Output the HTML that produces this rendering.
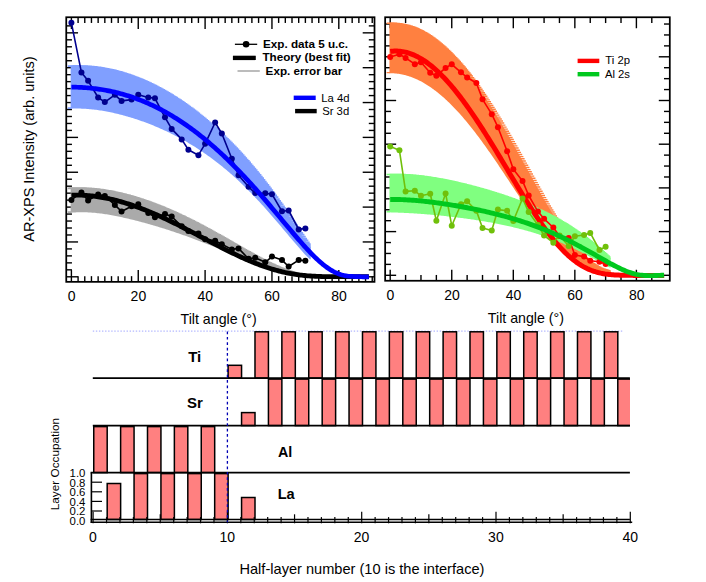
<!DOCTYPE html>
<html><head><meta charset="utf-8"><style>html,body{margin:0;padding:0;background:#fff;}body{width:706px;height:582px;position:relative;overflow:hidden;font-family:"Liberation Sans",sans-serif;}</style></head><body><svg width="706" height="582" viewBox="0 0 706 582" style="position:absolute;left:0;top:0">
<rect x="0" y="0" width="706" height="582" fill="#fff"/>
<g stroke="#000" stroke-width="1.4" fill="none"><path d="M71.40,17.25 v11.8"/><path d="M71.40,281.85 v-11.8"/><path d="M78.09,17.25 v5.7"/><path d="M78.09,281.85 v-5.7"/><path d="M84.77,17.25 v5.7"/><path d="M84.77,281.85 v-5.7"/><path d="M91.46,17.25 v5.7"/><path d="M91.46,281.85 v-5.7"/><path d="M98.14,17.25 v5.7"/><path d="M98.14,281.85 v-5.7"/><path d="M104.83,17.25 v5.7"/><path d="M104.83,281.85 v-5.7"/><path d="M111.51,17.25 v5.7"/><path d="M111.51,281.85 v-5.7"/><path d="M118.19,17.25 v5.7"/><path d="M118.19,281.85 v-5.7"/><path d="M124.88,17.25 v5.7"/><path d="M124.88,281.85 v-5.7"/><path d="M131.56,17.25 v5.7"/><path d="M131.56,281.85 v-5.7"/><path d="M138.25,17.25 v11.8"/><path d="M138.25,281.85 v-11.8"/><path d="M144.94,17.25 v5.7"/><path d="M144.94,281.85 v-5.7"/><path d="M151.62,17.25 v5.7"/><path d="M151.62,281.85 v-5.7"/><path d="M158.31,17.25 v5.7"/><path d="M158.31,281.85 v-5.7"/><path d="M164.99,17.25 v5.7"/><path d="M164.99,281.85 v-5.7"/><path d="M171.68,17.25 v5.7"/><path d="M171.68,281.85 v-5.7"/><path d="M178.36,17.25 v5.7"/><path d="M178.36,281.85 v-5.7"/><path d="M185.05,17.25 v5.7"/><path d="M185.05,281.85 v-5.7"/><path d="M191.73,17.25 v5.7"/><path d="M191.73,281.85 v-5.7"/><path d="M198.41,17.25 v5.7"/><path d="M198.41,281.85 v-5.7"/><path d="M205.10,17.25 v11.8"/><path d="M205.10,281.85 v-11.8"/><path d="M211.78,17.25 v5.7"/><path d="M211.78,281.85 v-5.7"/><path d="M218.47,17.25 v5.7"/><path d="M218.47,281.85 v-5.7"/><path d="M225.16,17.25 v5.7"/><path d="M225.16,281.85 v-5.7"/><path d="M231.84,17.25 v5.7"/><path d="M231.84,281.85 v-5.7"/><path d="M238.53,17.25 v5.7"/><path d="M238.53,281.85 v-5.7"/><path d="M245.21,17.25 v5.7"/><path d="M245.21,281.85 v-5.7"/><path d="M251.89,17.25 v5.7"/><path d="M251.89,281.85 v-5.7"/><path d="M258.58,17.25 v5.7"/><path d="M258.58,281.85 v-5.7"/><path d="M265.26,17.25 v5.7"/><path d="M265.26,281.85 v-5.7"/><path d="M271.95,17.25 v11.8"/><path d="M271.95,281.85 v-11.8"/><path d="M278.63,17.25 v5.7"/><path d="M278.63,281.85 v-5.7"/><path d="M285.32,17.25 v5.7"/><path d="M285.32,281.85 v-5.7"/><path d="M292.00,17.25 v5.7"/><path d="M292.00,281.85 v-5.7"/><path d="M298.69,17.25 v5.7"/><path d="M298.69,281.85 v-5.7"/><path d="M305.38,17.25 v5.7"/><path d="M305.38,281.85 v-5.7"/><path d="M312.06,17.25 v5.7"/><path d="M312.06,281.85 v-5.7"/><path d="M318.75,17.25 v5.7"/><path d="M318.75,281.85 v-5.7"/><path d="M325.43,17.25 v5.7"/><path d="M325.43,281.85 v-5.7"/><path d="M332.12,17.25 v5.7"/><path d="M332.12,281.85 v-5.7"/><path d="M338.80,17.25 v11.8"/><path d="M338.80,281.85 v-11.8"/><path d="M345.49,17.25 v5.7"/><path d="M345.49,281.85 v-5.7"/><path d="M352.17,17.25 v5.7"/><path d="M352.17,281.85 v-5.7"/><path d="M358.86,17.25 v5.7"/><path d="M358.86,281.85 v-5.7"/><path d="M365.54,17.25 v5.7"/><path d="M365.54,281.85 v-5.7"/><path d="M372.23,17.25 v5.7"/><path d="M372.23,281.85 v-5.7"/><path d="M66.25,276.80 h11.8"/><path d="M374.5,276.80 h-11.8"/><path d="M66.25,269.83 h5.7"/><path d="M374.5,269.83 h-5.7"/><path d="M66.25,262.86 h5.7"/><path d="M374.5,262.86 h-5.7"/><path d="M66.25,255.89 h5.7"/><path d="M374.5,255.89 h-5.7"/><path d="M66.25,248.92 h5.7"/><path d="M374.5,248.92 h-5.7"/><path d="M66.25,241.95 h11.8"/><path d="M374.5,241.95 h-11.8"/><path d="M66.25,234.98 h5.7"/><path d="M374.5,234.98 h-5.7"/><path d="M66.25,228.01 h5.7"/><path d="M374.5,228.01 h-5.7"/><path d="M66.25,221.04 h5.7"/><path d="M374.5,221.04 h-5.7"/><path d="M66.25,214.07 h5.7"/><path d="M374.5,214.07 h-5.7"/><path d="M66.25,207.10 h11.8"/><path d="M374.5,207.10 h-11.8"/><path d="M66.25,200.13 h5.7"/><path d="M374.5,200.13 h-5.7"/><path d="M66.25,193.16 h5.7"/><path d="M374.5,193.16 h-5.7"/><path d="M66.25,186.19 h5.7"/><path d="M374.5,186.19 h-5.7"/><path d="M66.25,179.22 h5.7"/><path d="M374.5,179.22 h-5.7"/><path d="M66.25,172.25 h11.8"/><path d="M374.5,172.25 h-11.8"/><path d="M66.25,165.28 h5.7"/><path d="M374.5,165.28 h-5.7"/><path d="M66.25,158.31 h5.7"/><path d="M374.5,158.31 h-5.7"/><path d="M66.25,151.34 h5.7"/><path d="M374.5,151.34 h-5.7"/><path d="M66.25,144.37 h5.7"/><path d="M374.5,144.37 h-5.7"/><path d="M66.25,137.40 h11.8"/><path d="M374.5,137.40 h-11.8"/><path d="M66.25,130.43 h5.7"/><path d="M374.5,130.43 h-5.7"/><path d="M66.25,123.46 h5.7"/><path d="M374.5,123.46 h-5.7"/><path d="M66.25,116.49 h5.7"/><path d="M374.5,116.49 h-5.7"/><path d="M66.25,109.52 h5.7"/><path d="M374.5,109.52 h-5.7"/><path d="M66.25,102.55 h11.8"/><path d="M374.5,102.55 h-11.8"/><path d="M66.25,95.58 h5.7"/><path d="M374.5,95.58 h-5.7"/><path d="M66.25,88.61 h5.7"/><path d="M374.5,88.61 h-5.7"/><path d="M66.25,81.64 h5.7"/><path d="M374.5,81.64 h-5.7"/><path d="M66.25,74.67 h5.7"/><path d="M374.5,74.67 h-5.7"/><path d="M66.25,67.70 h11.8"/><path d="M374.5,67.70 h-11.8"/><path d="M66.25,60.73 h5.7"/><path d="M374.5,60.73 h-5.7"/><path d="M66.25,53.76 h5.7"/><path d="M374.5,53.76 h-5.7"/><path d="M66.25,46.79 h5.7"/><path d="M374.5,46.79 h-5.7"/><path d="M66.25,39.82 h5.7"/><path d="M374.5,39.82 h-5.7"/><path d="M66.25,32.85 h11.8"/><path d="M374.5,32.85 h-11.8"/><path d="M66.25,25.88 h5.7"/><path d="M374.5,25.88 h-5.7"/></g>
<g stroke="#000" stroke-width="1.4" fill="none"><path d="M390.20,17.25 v11.0"/><path d="M390.20,280.75 v-11.0"/><path d="M405.59,17.25 v5.8"/><path d="M405.59,280.75 v-5.8"/><path d="M420.97,17.25 v5.8"/><path d="M420.97,280.75 v-5.8"/><path d="M436.36,17.25 v5.8"/><path d="M436.36,280.75 v-5.8"/><path d="M451.75,17.25 v11.0"/><path d="M451.75,280.75 v-11.0"/><path d="M467.14,17.25 v5.8"/><path d="M467.14,280.75 v-5.8"/><path d="M482.52,17.25 v5.8"/><path d="M482.52,280.75 v-5.8"/><path d="M497.91,17.25 v5.8"/><path d="M497.91,280.75 v-5.8"/><path d="M513.30,17.25 v11.0"/><path d="M513.30,280.75 v-11.0"/><path d="M528.69,17.25 v5.8"/><path d="M528.69,280.75 v-5.8"/><path d="M544.08,17.25 v5.8"/><path d="M544.08,280.75 v-5.8"/><path d="M559.46,17.25 v5.8"/><path d="M559.46,280.75 v-5.8"/><path d="M574.85,17.25 v11.0"/><path d="M574.85,280.75 v-11.0"/><path d="M590.24,17.25 v5.8"/><path d="M590.24,280.75 v-5.8"/><path d="M605.62,17.25 v5.8"/><path d="M605.62,280.75 v-5.8"/><path d="M621.01,17.25 v5.8"/><path d="M621.01,280.75 v-5.8"/><path d="M636.40,17.25 v11.0"/><path d="M636.40,280.75 v-11.0"/><path d="M651.79,17.25 v5.8"/><path d="M651.79,280.75 v-5.8"/><path d="M385.15,275.30 h11.0"/><path d="M669.8,275.30 h-11.0"/><path d="M385.15,264.38 h5.8"/><path d="M669.8,264.38 h-5.8"/><path d="M385.15,253.45 h5.8"/><path d="M669.8,253.45 h-5.8"/><path d="M385.15,242.53 h5.8"/><path d="M669.8,242.53 h-5.8"/><path d="M385.15,231.60 h11.0"/><path d="M669.8,231.60 h-11.0"/><path d="M385.15,220.68 h5.8"/><path d="M669.8,220.68 h-5.8"/><path d="M385.15,209.75 h5.8"/><path d="M669.8,209.75 h-5.8"/><path d="M385.15,198.82 h5.8"/><path d="M669.8,198.82 h-5.8"/><path d="M385.15,187.90 h11.0"/><path d="M669.8,187.90 h-11.0"/><path d="M385.15,176.98 h5.8"/><path d="M669.8,176.98 h-5.8"/><path d="M385.15,166.05 h5.8"/><path d="M669.8,166.05 h-5.8"/><path d="M385.15,155.12 h5.8"/><path d="M669.8,155.12 h-5.8"/><path d="M385.15,144.20 h11.0"/><path d="M669.8,144.20 h-11.0"/><path d="M385.15,133.28 h5.8"/><path d="M669.8,133.28 h-5.8"/><path d="M385.15,122.35 h5.8"/><path d="M669.8,122.35 h-5.8"/><path d="M385.15,111.43 h5.8"/><path d="M669.8,111.43 h-5.8"/><path d="M385.15,100.50 h11.0"/><path d="M669.8,100.50 h-11.0"/><path d="M385.15,89.57 h5.8"/><path d="M669.8,89.57 h-5.8"/><path d="M385.15,78.65 h5.8"/><path d="M669.8,78.65 h-5.8"/><path d="M385.15,67.72 h5.8"/><path d="M669.8,67.72 h-5.8"/><path d="M385.15,56.80 h11.0"/><path d="M669.8,56.80 h-11.0"/><path d="M385.15,45.88 h5.8"/><path d="M669.8,45.88 h-5.8"/><path d="M385.15,34.95 h5.8"/><path d="M669.8,34.95 h-5.8"/><path d="M385.15,24.03 h5.8"/><path d="M669.8,24.03 h-5.8"/></g>
<path d="M70.65,65.40 L71.40,65.40 L72.70,65.35 L74.01,65.32 L75.31,65.30 L76.61,65.29 L77.92,65.29 L79.22,65.31 L80.53,65.33 L81.83,65.37 L83.13,65.42 L84.44,65.48 L85.74,65.56 L87.04,65.64 L88.35,65.74 L89.65,65.85 L90.95,65.97 L92.26,66.10 L93.56,66.25 L94.86,66.40 L96.17,66.57 L97.47,66.75 L98.78,66.94 L100.08,67.14 L101.38,67.35 L102.69,67.58 L103.99,67.81 L105.29,68.06 L106.60,68.32 L107.90,68.59 L109.20,68.87 L110.51,69.16 L111.81,69.47 L113.11,69.78 L114.42,70.11 L115.72,70.45 L117.03,70.80 L118.33,71.16 L119.63,71.53 L120.94,71.91 L122.24,72.30 L123.54,72.71 L124.85,73.12 L126.15,73.55 L127.45,73.99 L128.76,74.44 L130.06,74.90 L131.36,75.37 L132.67,75.85 L133.97,76.34 L135.28,76.85 L136.58,77.36 L137.88,77.89 L139.19,78.42 L140.49,78.97 L141.79,79.53 L143.10,80.09 L144.40,80.67 L145.70,81.26 L147.01,81.87 L148.31,82.48 L149.61,83.10 L150.92,83.73 L152.22,84.38 L153.53,85.03 L154.83,85.70 L156.13,86.38 L157.44,87.06 L158.74,87.76 L160.04,88.47 L161.35,89.19 L162.65,89.92 L163.95,90.66 L165.26,91.42 L166.56,92.18 L167.86,92.95 L169.17,93.74 L170.47,94.53 L171.78,95.34 L173.08,96.16 L174.38,96.99 L175.69,97.83 L176.99,98.68 L178.29,99.54 L179.60,100.41 L180.90,101.29 L182.20,102.19 L183.51,103.10 L184.81,104.01 L186.11,104.94 L187.42,105.88 L188.72,106.83 L190.03,107.79 L191.33,108.77 L192.63,109.75 L193.94,110.75 L195.24,111.76 L196.54,112.77 L197.85,113.81 L199.15,114.85 L200.45,115.90 L201.76,116.97 L203.06,118.04 L204.36,119.12 L205.67,120.22 L206.97,121.32 L208.28,122.44 L209.58,123.57 L210.88,124.71 L212.19,125.87 L213.49,127.03 L214.79,128.21 L216.10,129.40 L217.40,130.61 L218.70,131.82 L220.01,133.05 L221.31,134.29 L222.61,135.54 L223.92,136.80 L225.22,138.08 L226.53,139.37 L227.83,140.67 L229.13,141.99 L230.44,143.32 L231.74,144.66 L233.04,146.01 L234.35,147.38 L235.65,148.76 L236.95,150.16 L238.26,151.56 L239.56,152.98 L240.86,154.42 L242.17,155.87 L243.47,157.33 L244.78,158.80 L246.08,160.29 L247.38,161.79 L248.69,163.30 L249.99,164.83 L251.29,166.37 L252.60,167.93 L253.90,169.49 L255.20,171.08 L256.51,172.67 L257.81,174.28 L259.11,175.90 L260.42,177.54 L261.72,179.19 L263.03,180.87 L264.33,182.56 L265.63,184.26 L266.94,185.97 L268.24,187.70 L269.54,189.44 L270.85,191.19 L272.15,192.95 L273.45,194.73 L274.76,196.52 L276.06,198.32 L277.36,200.13 L278.67,201.95 L279.97,203.78 L281.28,205.63 L282.58,207.48 L283.88,209.34 L285.19,211.21 L286.49,213.08 L287.79,214.97 L289.10,216.86 L290.40,218.76 L291.70,220.66 L293.01,222.56 L294.31,224.47 L295.61,226.38 L296.92,228.30 L298.22,230.21 L299.53,232.12 L300.83,234.03 L302.13,235.93 L303.44,237.83 L304.74,239.73 L306.04,241.56 L307.35,243.33 L308.65,245.09 L309.95,246.82 L310.70,246.82 L310.70,259.32 L309.95,259.32 L308.65,258.07 L307.35,256.80 L306.04,255.51 L304.74,254.14 L303.44,252.71 L302.13,251.26 L300.83,249.80 L299.53,248.32 L298.22,246.83 L296.92,245.33 L295.61,243.82 L294.31,242.30 L293.01,240.77 L291.70,239.23 L290.40,237.69 L289.10,236.15 L287.79,234.60 L286.49,233.06 L285.19,231.51 L283.88,229.96 L282.58,228.42 L281.28,226.87 L279.97,225.33 L278.67,223.79 L277.36,222.26 L276.06,220.73 L274.76,219.21 L273.45,217.69 L272.15,216.18 L270.85,214.68 L269.54,213.19 L268.24,211.70 L266.94,210.22 L265.63,208.76 L264.33,207.30 L263.03,205.85 L261.72,204.41 L260.42,202.99 L259.11,201.57 L257.81,200.17 L256.51,198.77 L255.20,197.39 L253.90,196.02 L252.60,194.66 L251.29,193.31 L249.99,191.98 L248.69,190.66 L247.38,189.35 L246.08,188.05 L244.78,186.76 L243.47,185.49 L242.17,184.23 L240.86,182.98 L239.56,181.75 L238.26,180.53 L236.95,179.32 L235.65,178.12 L234.35,176.94 L233.04,175.77 L231.74,174.61 L230.44,173.47 L229.13,172.34 L227.83,171.22 L226.53,170.11 L225.22,169.01 L223.92,167.93 L222.61,166.86 L221.31,165.81 L220.01,164.76 L218.70,163.73 L217.40,162.71 L216.10,161.70 L214.79,160.70 L213.49,159.72 L212.19,158.74 L210.88,157.78 L209.58,156.83 L208.28,155.89 L206.97,154.97 L205.67,154.05 L204.36,153.15 L203.06,152.25 L201.76,151.37 L200.45,150.50 L199.15,149.64 L197.85,148.79 L196.54,147.95 L195.24,147.12 L193.94,146.30 L192.63,145.50 L191.33,144.70 L190.03,143.91 L188.72,143.13 L187.42,142.37 L186.11,141.61 L184.81,140.86 L183.51,140.12 L182.20,139.39 L180.90,138.67 L179.60,137.96 L178.29,137.26 L176.99,136.57 L175.69,135.89 L174.38,135.22 L173.08,134.55 L171.78,133.90 L170.47,133.25 L169.17,132.61 L167.86,131.98 L166.56,131.36 L165.26,130.75 L163.95,130.14 L162.65,129.55 L161.35,128.96 L160.04,128.38 L158.74,127.81 L157.44,127.25 L156.13,126.70 L154.83,126.15 L153.53,125.61 L152.22,125.08 L150.92,124.56 L149.61,124.05 L148.31,123.54 L147.01,123.04 L145.70,122.55 L144.40,122.07 L143.10,121.59 L141.79,121.13 L140.49,120.67 L139.19,120.22 L137.88,119.77 L136.58,119.34 L135.28,118.91 L133.97,118.49 L132.67,118.08 L131.36,117.67 L130.06,117.28 L128.76,116.89 L127.45,116.51 L126.15,116.13 L124.85,115.77 L123.54,115.41 L122.24,115.06 L120.94,114.72 L119.63,114.39 L118.33,114.06 L117.03,113.75 L115.72,113.44 L114.42,113.14 L113.11,112.85 L111.81,112.56 L110.51,112.29 L109.20,112.02 L107.90,111.77 L106.60,111.52 L105.29,111.28 L103.99,111.05 L102.69,110.83 L101.38,110.62 L100.08,110.42 L98.78,110.22 L97.47,110.04 L96.17,109.87 L94.86,109.70 L93.56,109.55 L92.26,109.41 L90.95,109.28 L89.65,109.15 L88.35,109.04 L87.04,108.94 L85.74,108.85 L84.44,108.77 L83.13,108.71 L81.83,108.65 L80.53,108.61 L79.22,108.57 L77.92,108.55 L76.61,108.55 L75.31,108.55 L74.01,108.57 L72.70,108.60 L71.40,108.64 L70.65,108.64Z" fill="#809fff"/><path d="M67.80,66.10H75.00M69.10,66.05H76.30M70.41,66.02H77.61M71.71,66.00H78.91M73.01,65.99H80.21M74.32,65.99H81.52M75.62,66.01H82.82M76.93,66.03H84.13M78.23,66.07H85.43M79.53,66.12H86.73M80.84,66.18H88.04M82.14,66.26H89.34M83.44,66.34H90.64M84.75,66.44H91.95M86.05,66.55H93.25M87.35,66.67H94.55M88.66,66.80H95.86M89.96,66.95H97.16M91.26,67.10H98.46M92.57,67.27H99.77M93.87,67.45H101.07M95.18,67.64H102.38M96.48,67.84H103.68M97.78,68.05H104.98M99.09,68.28H106.29M100.39,68.51H107.59M101.69,68.76H108.89M103.00,69.02H110.20M104.30,69.29H111.50M105.60,69.57H112.80M106.91,69.86H114.11M108.21,70.17H115.41M109.51,70.48H116.71M110.82,70.81H118.02M112.12,71.15H119.32M113.43,71.50H120.63M114.73,71.86H121.93M116.03,72.23H123.23M117.34,72.61H124.54M118.64,73.00H125.84M119.94,73.41H127.14M121.25,73.82H128.45M122.55,74.25H129.75M123.85,74.69H131.05M125.16,75.14H132.36M126.46,75.60H133.66M127.76,76.07H134.96M129.07,76.55H136.27M130.37,77.04H137.57M131.68,77.55H138.88M132.98,78.06H140.18M134.28,78.59H141.48M135.59,79.12H142.79M136.89,79.67H144.09M138.19,80.23H145.39M139.50,80.79H146.70M140.80,81.37H148.00M142.10,81.96H149.30M143.41,82.57H150.61M144.71,83.18H151.91M146.01,83.80H153.21M147.32,84.43H154.52M148.62,85.08H155.82M149.93,85.73H157.13M151.23,86.40H158.43M152.53,87.08H159.73M153.84,87.76H161.04M155.14,88.46H162.34M156.44,89.17H163.64M157.75,89.89H164.95M159.05,90.62H166.25M160.35,91.36H167.55M161.66,92.12H168.86M162.96,92.88H170.16M164.26,93.65H171.46M165.57,94.44H172.77M166.87,95.23H174.07M168.18,96.04H175.38M169.48,96.86H176.68M170.78,97.69H177.98M172.09,98.53H179.29M173.39,99.38H180.59M174.69,100.24H181.89M176.00,101.11H183.20M177.30,101.99H184.50M178.60,102.89H185.80M179.91,103.80H187.11M181.21,104.71H188.41M182.51,105.64H189.71M183.82,106.58H191.02M185.12,107.53H192.32M186.43,108.49H193.63M187.73,109.47H194.93M189.03,110.45H196.23M190.34,111.45H197.54M191.64,112.46H198.84M192.94,113.47H200.14M194.25,114.51H201.45M195.55,115.55H202.75M196.85,116.60H204.05M198.16,117.67H205.36M199.46,118.74H206.66M200.76,119.82H207.96M202.07,120.92H209.27M203.37,122.02H210.57M204.68,123.14H211.88M205.98,124.27H213.18M207.28,125.41H214.48M208.59,126.57H215.79M209.89,127.73H217.09M211.19,128.91H218.39M212.50,130.10H219.70M213.80,131.31H221.00M215.10,132.52H222.30M216.41,133.75H223.61M217.71,134.99H224.91M219.01,136.24H226.21M220.32,137.50H227.52M221.62,138.78H228.82M222.93,140.07H230.13M224.23,141.37H231.43M225.53,142.69H232.73M226.84,144.02H234.04M228.14,145.36H235.34M229.44,146.71H236.64M230.75,148.08H237.95M232.05,149.46H239.25M233.35,150.86H240.55M234.66,152.26H241.86M235.96,153.68H243.16M237.26,155.12H244.46M238.57,156.57H245.77M239.87,158.03H247.07M241.18,159.50H248.38M242.48,160.99H249.68M243.78,162.49H250.98M245.09,164.00H252.29M246.39,165.53H253.59M247.69,167.07H254.89M249.00,168.63H256.20M250.30,170.19H257.50M251.60,171.78H258.80M252.91,173.37H260.11M254.21,174.98H261.41M255.51,176.60H262.71M256.82,178.24H264.02M258.12,179.89H265.32M259.43,181.57H266.63M260.73,183.26H267.93M262.03,184.96H269.23M263.34,186.67H270.54M264.64,188.40H271.84M265.94,190.14H273.14M267.25,191.89H274.45M268.55,193.65H275.75M269.85,195.43H277.05M271.16,197.22H278.36M272.46,199.02H279.66M273.76,200.83H280.96M275.07,202.65H282.27M276.37,204.48H283.57M277.68,206.33H284.88M278.98,208.18H286.18M280.28,210.04H287.48M281.59,211.91H288.79M282.89,213.78H290.09M284.19,215.67H291.39M285.50,217.56H292.70M286.80,219.46H294.00M288.10,221.36H295.30M289.41,223.26H296.61M290.71,225.17H297.91M292.01,227.08H299.21M293.32,229.00H300.52M294.62,230.91H301.82M295.93,232.82H303.13M297.23,234.73H304.43M298.53,236.63H305.73M299.84,238.53H307.04M301.14,240.43H308.34M302.44,242.26H309.64M303.75,244.03H310.70M305.05,245.79H310.70M306.35,247.52H310.70M67.80,108.09h3.6" stroke="#809fff" stroke-width="1.75" fill="none"/>
<path d="M70.65,187.58 L71.40,187.58 L72.70,187.52 L74.01,187.48 L75.31,187.44 L76.61,187.42 L77.92,187.42 L79.22,187.42 L80.53,187.44 L81.83,187.47 L83.13,187.51 L84.44,187.56 L85.74,187.63 L87.04,187.70 L88.35,187.79 L89.65,187.88 L90.95,187.99 L92.26,188.11 L93.56,188.24 L94.86,188.38 L96.17,188.52 L97.47,188.68 L98.78,188.85 L100.08,189.03 L101.38,189.22 L102.69,189.41 L103.99,189.62 L105.29,189.83 L106.60,190.06 L107.90,190.29 L109.20,190.53 L110.51,190.78 L111.81,191.04 L113.11,191.31 L114.42,191.59 L115.72,191.87 L117.03,192.17 L118.33,192.47 L119.63,192.78 L120.94,193.09 L122.24,193.42 L123.54,193.75 L124.85,194.09 L126.15,194.44 L127.45,194.79 L128.76,195.16 L130.06,195.53 L131.36,195.91 L132.67,196.29 L133.97,196.68 L135.28,197.08 L136.58,197.49 L137.88,197.90 L139.19,198.32 L140.49,198.75 L141.79,199.19 L143.10,199.63 L144.40,200.08 L145.70,200.53 L147.01,200.99 L148.31,201.46 L149.61,201.94 L150.92,202.42 L152.22,202.90 L153.53,203.40 L154.83,203.90 L156.13,204.41 L157.44,204.92 L158.74,205.44 L160.04,205.96 L161.35,206.49 L162.65,207.03 L163.95,207.57 L165.26,208.12 L166.56,208.68 L167.86,209.24 L169.17,209.81 L170.47,210.38 L171.78,210.96 L173.08,211.54 L174.38,212.13 L175.69,212.73 L176.99,213.33 L178.29,213.94 L179.60,214.55 L180.90,215.16 L182.20,215.79 L183.51,216.41 L184.81,217.05 L186.11,217.68 L187.42,218.33 L188.72,218.97 L190.03,219.63 L191.33,220.28 L192.63,220.95 L193.94,221.61 L195.24,222.28 L196.54,222.96 L197.85,223.64 L199.15,224.32 L200.45,225.01 L201.76,225.70 L203.06,226.40 L204.36,227.10 L205.67,227.80 L206.97,228.51 L208.28,229.22 L209.58,229.93 L210.88,230.65 L212.19,231.37 L213.49,232.09 L214.79,232.82 L216.10,233.55 L217.40,234.28 L218.70,235.01 L220.01,235.75 L221.31,236.48 L222.61,237.22 L223.92,237.96 L225.22,238.71 L226.53,239.45 L227.83,240.19 L229.13,240.94 L230.44,241.68 L231.74,242.43 L233.04,243.17 L234.35,243.92 L235.65,244.66 L236.95,245.40 L238.26,246.15 L239.56,246.89 L240.86,247.63 L242.17,248.37 L243.47,249.10 L244.78,249.83 L246.08,250.57 L247.38,251.29 L248.69,252.02 L249.99,252.74 L251.29,253.45 L252.60,254.16 L253.90,254.87 L255.20,255.57 L256.51,256.27 L257.81,256.96 L259.11,257.64 L260.42,258.32 L261.72,258.99 L263.03,259.65 L264.33,260.31 L265.63,260.95 L266.94,261.59 L268.24,262.22 L269.54,262.84 L270.85,263.44 L272.15,264.04 L273.45,264.63 L274.76,265.21 L276.06,265.77 L277.36,266.32 L278.67,266.86 L279.97,267.39 L281.28,267.90 L282.58,268.40 L283.88,268.88 L285.19,269.35 L286.49,269.81 L287.79,270.25 L289.10,270.67 L290.40,271.08 L291.70,271.47 L293.01,271.84 L294.31,272.20 L295.61,272.54 L296.92,272.86 L298.22,273.17 L299.53,273.46 L300.83,273.73 L302.13,273.98 L303.44,274.21 L304.74,274.43 L306.04,274.63 L307.35,274.83 L308.65,275.02 L309.95,275.20 L310.70,275.20 L310.70,276.20 L309.95,276.20 L308.65,276.22 L307.35,276.23 L306.04,276.21 L304.74,276.18 L303.44,276.12 L302.13,276.05 L300.83,275.96 L299.53,275.85 L298.22,275.73 L296.92,275.58 L295.61,275.42 L294.31,275.25 L293.01,275.05 L291.70,274.84 L290.40,274.62 L289.10,274.38 L287.79,274.12 L286.49,273.85 L285.19,273.56 L283.88,273.26 L282.58,272.95 L281.28,272.62 L279.97,272.28 L278.67,271.92 L277.36,271.56 L276.06,271.18 L274.76,270.79 L273.45,270.39 L272.15,269.98 L270.85,269.56 L269.54,269.13 L268.24,268.69 L266.94,268.25 L265.63,267.79 L264.33,267.32 L263.03,266.85 L261.72,266.37 L260.42,265.89 L259.11,265.39 L257.81,264.89 L256.51,264.39 L255.20,263.88 L253.90,263.37 L252.60,262.85 L251.29,262.32 L249.99,261.79 L248.69,261.26 L247.38,260.73 L246.08,260.19 L244.78,259.65 L243.47,259.11 L242.17,258.57 L240.86,258.02 L239.56,257.47 L238.26,256.93 L236.95,256.38 L235.65,255.83 L234.35,255.28 L233.04,254.73 L231.74,254.18 L230.44,253.62 L229.13,253.08 L227.83,252.53 L226.53,251.98 L225.22,251.43 L223.92,250.88 L222.61,250.34 L221.31,249.80 L220.01,249.25 L218.70,248.71 L217.40,248.18 L216.10,247.64 L214.79,247.11 L213.49,246.58 L212.19,246.05 L210.88,245.52 L209.58,245.00 L208.28,244.47 L206.97,243.96 L205.67,243.44 L204.36,242.93 L203.06,242.42 L201.76,241.91 L200.45,241.41 L199.15,240.90 L197.85,240.41 L196.54,239.91 L195.24,239.42 L193.94,238.93 L192.63,238.45 L191.33,237.96 L190.03,237.49 L188.72,237.01 L187.42,236.54 L186.11,236.07 L184.81,235.60 L183.51,235.14 L182.20,234.68 L180.90,234.23 L179.60,233.78 L178.29,233.33 L176.99,232.88 L175.69,232.44 L174.38,232.00 L173.08,231.57 L171.78,231.13 L170.47,230.71 L169.17,230.28 L167.86,229.86 L166.56,229.44 L165.26,229.02 L163.95,228.61 L162.65,228.20 L161.35,227.80 L160.04,227.40 L158.74,227.00 L157.44,226.60 L156.13,226.21 L154.83,225.82 L153.53,225.44 L152.22,225.06 L150.92,224.68 L149.61,224.30 L148.31,223.93 L147.01,223.57 L145.70,223.20 L144.40,222.84 L143.10,222.48 L141.79,222.13 L140.49,221.78 L139.19,221.44 L137.88,221.10 L136.58,220.76 L135.28,220.43 L133.97,220.10 L132.67,219.77 L131.36,219.45 L130.06,219.14 L128.76,218.82 L127.45,218.52 L126.15,218.21 L124.85,217.92 L123.54,217.63 L122.24,217.34 L120.94,217.06 L119.63,216.78 L118.33,216.51 L117.03,216.25 L115.72,215.99 L114.42,215.74 L113.11,215.49 L111.81,215.25 L110.51,215.02 L109.20,214.80 L107.90,214.58 L106.60,214.37 L105.29,214.17 L103.99,213.97 L102.69,213.79 L101.38,213.61 L100.08,213.44 L98.78,213.28 L97.47,213.13 L96.17,212.99 L94.86,212.86 L93.56,212.74 L92.26,212.64 L90.95,212.54 L89.65,212.46 L88.35,212.38 L87.04,212.32 L85.74,212.28 L84.44,212.24 L83.13,212.22 L81.83,212.22 L80.53,212.23 L79.22,212.25 L77.92,212.29 L76.61,212.35 L75.31,212.42 L74.01,212.51 L72.70,212.62 L71.40,212.75 L70.65,212.75Z" fill="#aaaaaa"/><path d="M67.80,188.28H75.00M69.10,188.22H76.30M70.41,188.18H77.61M71.71,188.14H78.91M73.01,188.12H80.21M74.32,188.12H81.52M75.62,188.12H82.82M76.93,188.14H84.13M78.23,188.17H85.43M79.53,188.21H86.73M80.84,188.26H88.04M82.14,188.33H89.34M83.44,188.40H90.64M84.75,188.49H91.95M86.05,188.58H93.25M87.35,188.69H94.55M88.66,188.81H95.86M89.96,188.94H97.16M91.26,189.08H98.46M92.57,189.22H99.77M93.87,189.38H101.07M95.18,189.55H102.38M96.48,189.73H103.68M97.78,189.92H104.98M99.09,190.11H106.29M100.39,190.32H107.59M101.69,190.53H108.89M103.00,190.76H110.20M104.30,190.99H111.50M105.60,191.23H112.80M106.91,191.48H114.11M108.21,191.74H115.41M109.51,192.01H116.71M110.82,192.29H118.02M112.12,192.57H119.32M113.43,192.87H120.63M114.73,193.17H121.93M116.03,193.48H123.23M117.34,193.79H124.54M118.64,194.12H125.84M119.94,194.45H127.14M121.25,194.79H128.45M122.55,195.14H129.75M123.85,195.49H131.05M125.16,195.86H132.36M126.46,196.23H133.66M127.76,196.61H134.96M129.07,196.99H136.27M130.37,197.38H137.57M131.68,197.78H138.88M132.98,198.19H140.18M134.28,198.60H141.48M135.59,199.02H142.79M136.89,199.45H144.09M138.19,199.89H145.39M139.50,200.33H146.70M140.80,200.78H148.00M142.10,201.23H149.30M143.41,201.69H150.61M144.71,202.16H151.91M146.01,202.64H153.21M147.32,203.12H154.52M148.62,203.60H155.82M149.93,204.10H157.13M151.23,204.60H158.43M152.53,205.11H159.73M153.84,205.62H161.04M155.14,206.14H162.34M156.44,206.66H163.64M157.75,207.19H164.95M159.05,207.73H166.25M160.35,208.27H167.55M161.66,208.82H168.86M162.96,209.38H170.16M164.26,209.94H171.46M165.57,210.51H172.77M166.87,211.08H174.07M168.18,211.66H175.38M169.48,212.24H176.68M170.78,212.83H177.98M172.09,213.43H179.29M173.39,214.03H180.59M174.69,214.64H181.89M176.00,215.25H183.20M177.30,215.86H184.50M178.60,216.49H185.80M179.91,217.11H187.11M181.21,217.75H188.41M182.51,218.38H189.71M183.82,219.03H191.02M185.12,219.67H192.32M186.43,220.33H193.63M187.73,220.98H194.93M189.03,221.65H196.23M190.34,222.31H197.54M191.64,222.98H198.84M192.94,223.66H200.14M194.25,224.34H201.45M195.55,225.02H202.75M196.85,225.71H204.05M198.16,226.40H205.36M199.46,227.10H206.66M200.76,227.80H207.96M202.07,228.50H209.27M203.37,229.21H210.57M204.68,229.92H211.88M205.98,230.63H213.18M207.28,231.35H214.48M208.59,232.07H215.79M209.89,232.79H217.09M211.19,233.52H218.39M212.50,234.25H219.70M213.80,234.98H221.00M215.10,235.71H222.30M216.41,236.45H223.61M217.71,237.18H224.91M219.01,237.92H226.21M220.32,238.66H227.52M221.62,239.41H228.82M222.93,240.15H230.13M224.23,240.89H231.43M225.53,241.64H232.73M226.84,242.38H234.04M228.14,243.13H235.34M229.44,243.87H236.64M230.75,244.62H237.95M232.05,245.36H239.25M233.35,246.10H240.55M234.66,246.85H241.86M235.96,247.59H243.16M237.26,248.33H244.46M238.57,249.07H245.77M239.87,249.80H247.07M241.18,250.53H248.38M242.48,251.27H249.68M243.78,251.99H250.98M245.09,252.72H252.29M246.39,253.44H253.59M247.69,254.15H254.89M249.00,254.86H256.20M250.30,255.57H257.50M251.60,256.27H258.80M252.91,256.97H260.11M254.21,257.66H261.41M255.51,258.34H262.71M256.82,259.02H264.02M258.12,259.69H265.32M259.43,260.35H266.63M260.73,261.01H267.93M262.03,261.65H269.23M263.34,262.29H270.54M264.64,262.92H271.84M265.94,263.54H273.14M267.25,264.14H274.45M268.55,264.74H275.75M269.85,265.33H277.05M271.16,265.91H278.36M272.46,266.47H279.66M273.76,267.02H280.96M275.07,267.56H282.27M276.37,268.09H283.57M277.68,268.60H284.88M278.98,269.10H286.18M280.28,269.58H287.48M281.59,270.05H288.79M282.89,270.51H290.09M284.19,270.95H291.39M285.50,271.37H292.70M286.80,271.78H294.00M288.10,272.17H295.30M289.41,272.54H296.61M290.71,272.90H297.91M292.01,273.24H299.21M293.32,273.56H300.52M294.62,273.87H301.82M295.93,274.16H303.13M297.23,274.43H304.43M298.53,274.68H305.73M299.84,274.91H307.04M301.14,275.13H308.34M302.44,275.33H309.64M303.75,275.53H310.70M305.05,275.72H310.70M306.35,275.90H310.70M67.80,212.20h3.6" stroke="#aaaaaa" stroke-width="1.75" fill="none"/>
<path d="M71.40,22.80 L81.43,72.40 L88.11,80.80 L98.14,97.50 L104.83,102.10 L114.85,94.80 L121.54,100.90 L131.56,99.60 L138.25,94.80 L148.28,97.40 L154.96,98.30 L164.99,117.30 L171.68,128.90 L181.70,139.40 L188.39,149.80 L198.41,155.20 L205.10,143.80 L215.13,122.50 L221.81,133.50 L231.84,158.80 L238.53,175.30 L248.55,186.80 L255.24,193.10 L265.26,193.30 L271.95,194.20 L281.98,211.30 L288.66,210.50 L298.69,229.40 L305.38,228.40" fill="none" stroke="#00008f" stroke-width="1.6" stroke-linejoin="round"/><circle cx="71.40" cy="22.80" r="3.0" fill="#00008f"/><circle cx="81.43" cy="72.40" r="3.0" fill="#00008f"/><circle cx="88.11" cy="80.80" r="3.0" fill="#00008f"/><circle cx="98.14" cy="97.50" r="3.0" fill="#00008f"/><circle cx="104.83" cy="102.10" r="3.0" fill="#00008f"/><circle cx="114.85" cy="94.80" r="3.0" fill="#00008f"/><circle cx="121.54" cy="100.90" r="3.0" fill="#00008f"/><circle cx="131.56" cy="99.60" r="3.0" fill="#00008f"/><circle cx="138.25" cy="94.80" r="3.0" fill="#00008f"/><circle cx="148.28" cy="97.40" r="3.0" fill="#00008f"/><circle cx="154.96" cy="98.30" r="3.0" fill="#00008f"/><circle cx="164.99" cy="117.30" r="3.0" fill="#00008f"/><circle cx="171.68" cy="128.90" r="3.0" fill="#00008f"/><circle cx="181.70" cy="139.40" r="3.0" fill="#00008f"/><circle cx="188.39" cy="149.80" r="3.0" fill="#00008f"/><circle cx="198.41" cy="155.20" r="3.0" fill="#00008f"/><circle cx="205.10" cy="143.80" r="3.0" fill="#00008f"/><circle cx="215.13" cy="122.50" r="3.0" fill="#00008f"/><circle cx="221.81" cy="133.50" r="3.0" fill="#00008f"/><circle cx="231.84" cy="158.80" r="3.0" fill="#00008f"/><circle cx="238.53" cy="175.30" r="3.0" fill="#00008f"/><circle cx="248.55" cy="186.80" r="3.0" fill="#00008f"/><circle cx="255.24" cy="193.10" r="3.0" fill="#00008f"/><circle cx="265.26" cy="193.30" r="3.0" fill="#00008f"/><circle cx="271.95" cy="194.20" r="3.0" fill="#00008f"/><circle cx="281.98" cy="211.30" r="3.0" fill="#00008f"/><circle cx="288.66" cy="210.50" r="3.0" fill="#00008f"/><circle cx="298.69" cy="229.40" r="3.0" fill="#00008f"/><circle cx="305.38" cy="228.40" r="3.0" fill="#00008f"/>
<path d="M71.40,199.90 L81.43,192.40 L88.11,200.50 L98.14,194.40 L104.83,196.00 L114.85,204.90 L121.54,211.50 L131.56,206.30 L138.25,204.30 L148.28,212.90 L154.96,217.30 L164.99,214.10 L171.68,216.50 L181.70,226.30 L188.39,230.90 L198.41,233.50 L205.10,239.20 L215.13,240.80 L221.81,244.20 L231.84,249.40 L238.53,248.40 L248.55,258.80 L255.24,257.80 L265.26,262.30 L271.95,256.60 L281.98,260.10 L288.66,266.50 L298.69,260.10 L305.38,260.70" fill="none" stroke="#000" stroke-width="1.6" stroke-linejoin="round"/><circle cx="71.40" cy="199.90" r="3.0" fill="#000"/><circle cx="81.43" cy="192.40" r="3.0" fill="#000"/><circle cx="88.11" cy="200.50" r="3.0" fill="#000"/><circle cx="98.14" cy="194.40" r="3.0" fill="#000"/><circle cx="104.83" cy="196.00" r="3.0" fill="#000"/><circle cx="114.85" cy="204.90" r="3.0" fill="#000"/><circle cx="121.54" cy="211.50" r="3.0" fill="#000"/><circle cx="131.56" cy="206.30" r="3.0" fill="#000"/><circle cx="138.25" cy="204.30" r="3.0" fill="#000"/><circle cx="148.28" cy="212.90" r="3.0" fill="#000"/><circle cx="154.96" cy="217.30" r="3.0" fill="#000"/><circle cx="164.99" cy="214.10" r="3.0" fill="#000"/><circle cx="171.68" cy="216.50" r="3.0" fill="#000"/><circle cx="181.70" cy="226.30" r="3.0" fill="#000"/><circle cx="188.39" cy="230.90" r="3.0" fill="#000"/><circle cx="198.41" cy="233.50" r="3.0" fill="#000"/><circle cx="205.10" cy="239.20" r="3.0" fill="#000"/><circle cx="215.13" cy="240.80" r="3.0" fill="#000"/><circle cx="221.81" cy="244.20" r="3.0" fill="#000"/><circle cx="231.84" cy="249.40" r="3.0" fill="#000"/><circle cx="238.53" cy="248.40" r="3.0" fill="#000"/><circle cx="248.55" cy="258.80" r="3.0" fill="#000"/><circle cx="255.24" cy="257.80" r="3.0" fill="#000"/><circle cx="265.26" cy="262.30" r="3.0" fill="#000"/><circle cx="271.95" cy="256.60" r="3.0" fill="#000"/><circle cx="281.98" cy="260.10" r="3.0" fill="#000"/><circle cx="288.66" cy="266.50" r="3.0" fill="#000"/><circle cx="298.69" cy="260.10" r="3.0" fill="#000"/><circle cx="305.38" cy="260.70" r="3.0" fill="#000"/>
<path d="M71.40,195.12 L72.89,195.08 L74.39,195.06 L75.88,195.06 L77.38,195.07 L78.87,195.10 L80.37,195.14 L81.86,195.20 L83.36,195.27 L84.85,195.35 L86.35,195.46 L87.84,195.57 L89.34,195.70 L90.83,195.85 L92.33,196.01 L93.82,196.19 L95.32,196.37 L96.81,196.58 L98.31,196.79 L99.80,197.03 L101.30,197.27 L102.79,197.53 L104.29,197.80 L105.78,198.09 L107.28,198.39 L108.77,198.70 L110.27,199.02 L111.76,199.36 L113.26,199.71 L114.75,200.08 L116.25,200.45 L117.74,200.84 L119.24,201.24 L120.73,201.66 L122.23,202.08 L123.72,202.52 L125.22,202.97 L126.71,203.43 L128.21,203.90 L129.70,204.38 L131.20,204.88 L132.69,205.38 L134.19,205.90 L135.68,206.42 L137.18,206.96 L138.67,207.51 L140.16,208.07 L141.66,208.63 L143.15,209.21 L144.65,209.80 L146.14,210.39 L147.64,211.00 L149.13,211.61 L150.63,212.24 L152.12,212.87 L153.62,213.51 L155.11,214.15 L156.61,214.81 L158.10,215.48 L159.60,216.15 L161.09,216.83 L162.59,217.51 L164.08,218.21 L165.58,218.91 L167.07,219.61 L168.57,220.32 L170.06,221.04 L171.56,221.77 L173.05,222.50 L174.55,223.23 L176.04,223.97 L177.54,224.72 L179.03,225.47 L180.53,226.22 L182.02,226.98 L183.52,227.75 L185.01,228.51 L186.51,229.28 L188.00,230.05 L189.50,230.83 L190.99,231.61 L192.49,232.39 L193.98,233.17 L195.48,233.95 L196.97,234.74 L198.47,235.53 L199.96,236.31 L201.46,237.10 L202.95,237.89 L204.44,238.68 L205.94,239.46 L207.43,240.25 L208.93,241.04 L210.42,241.82 L211.92,242.60 L213.41,243.39 L214.91,244.17 L216.40,244.94 L217.90,245.72 L219.39,246.49 L220.89,247.25 L222.38,248.02 L223.88,248.78 L225.37,249.53 L226.87,250.28 L228.36,251.03 L229.86,251.77 L231.35,252.50 L232.85,253.23 L234.34,253.95 L235.84,254.66 L237.33,255.37 L238.83,256.07 L240.32,256.76 L241.82,257.45 L243.31,258.12 L244.81,258.79 L246.30,259.45 L247.80,260.10 L249.29,260.74 L250.79,261.36 L252.28,261.98 L253.78,262.59 L255.27,263.19 L256.77,263.78 L258.26,264.35 L259.76,264.91 L261.25,265.46 L262.75,266.00 L264.24,266.53 L265.74,267.04 L267.23,267.54 L268.73,268.03 L270.22,268.50 L271.71,268.97 L273.21,269.41 L274.70,269.84 L276.20,270.26 L277.69,270.67 L279.19,271.06 L280.68,271.43 L282.18,271.80 L283.67,272.14 L285.17,272.47 L286.66,272.79 L288.16,273.10 L289.65,273.38 L291.15,273.66 L292.64,273.92 L294.14,274.16 L295.63,274.40 L297.13,274.61 L298.62,274.82 L300.12,275.01 L301.61,275.19 L303.11,275.35 L304.60,275.51 L306.10,275.65 L307.59,275.78 L309.09,275.89 L310.58,276.00 L312.08,276.10 L313.57,276.18 L315.07,276.26 L316.56,276.33 L318.06,276.39 L319.55,276.44 L321.05,276.49 L322.54,276.53 L324.04,276.56 L325.53,276.59 L327.03,276.61 L328.52,276.63 L330.02,276.65 L331.51,276.66 L333.01,276.67 L334.50,276.68 L335.99,276.69 L337.49,276.69 L338.98,276.70 L340.48,276.70 L341.97,276.70 L343.47,276.70 L344.96,276.70 L346.46,276.70 L347.95,276.70 L349.45,276.70 L350.94,276.70 L352.44,276.70 L353.93,276.70 L355.43,276.70 L356.92,276.70 L358.42,276.70 L359.91,276.70 L361.41,276.69 L362.90,276.69 L364.40,276.68 L365.89,276.68 L367.39,276.67 L368.88,276.67" fill="none" stroke="#000" stroke-width="4.8" stroke-linejoin="round"/>
<path d="M71.40,87.08 L72.89,87.10 L74.39,87.13 L75.88,87.18 L77.38,87.23 L78.87,87.30 L80.37,87.37 L81.86,87.45 L83.36,87.55 L84.85,87.65 L86.35,87.76 L87.84,87.89 L89.34,88.03 L90.83,88.17 L92.33,88.33 L93.82,88.50 L95.32,88.69 L96.81,88.88 L98.31,89.09 L99.80,89.30 L101.30,89.53 L102.79,89.77 L104.29,90.03 L105.78,90.29 L107.28,90.57 L108.77,90.86 L110.27,91.17 L111.76,91.49 L113.26,91.82 L114.75,92.16 L116.25,92.52 L117.74,92.89 L119.24,93.27 L120.73,93.67 L122.23,94.08 L123.72,94.50 L125.22,94.94 L126.71,95.39 L128.21,95.85 L129.70,96.33 L131.20,96.82 L132.69,97.33 L134.19,97.85 L135.68,98.38 L137.18,98.93 L138.67,99.50 L140.16,100.07 L141.66,100.67 L143.15,101.27 L144.65,101.89 L146.14,102.53 L147.64,103.18 L149.13,103.84 L150.63,104.52 L152.12,105.22 L153.62,105.92 L155.11,106.65 L156.61,107.39 L158.10,108.14 L159.60,108.91 L161.09,109.69 L162.59,110.49 L164.08,111.30 L165.58,112.13 L167.07,112.97 L168.57,113.82 L170.06,114.70 L171.56,115.58 L173.05,116.49 L174.55,117.40 L176.04,118.34 L177.54,119.28 L179.03,120.24 L180.53,121.22 L182.02,122.21 L183.52,123.22 L185.01,124.24 L186.51,125.28 L188.00,126.33 L189.50,127.40 L190.99,128.48 L192.49,129.58 L193.98,130.69 L195.48,131.82 L196.97,132.97 L198.47,134.12 L199.96,135.30 L201.46,136.48 L202.95,137.68 L204.44,138.90 L205.94,140.13 L207.43,141.38 L208.93,142.64 L210.42,143.92 L211.92,145.21 L213.41,146.51 L214.91,147.83 L216.40,149.17 L217.90,150.52 L219.39,151.88 L220.89,153.26 L222.38,154.65 L223.88,156.06 L225.37,157.48 L226.87,158.91 L228.36,160.36 L229.86,161.82 L231.35,163.30 L232.85,164.79 L234.34,166.29 L235.84,167.80 L237.33,169.33 L238.83,170.88 L240.32,172.43 L241.82,174.00 L243.31,175.58 L244.81,177.17 L246.30,178.78 L247.80,180.39 L249.29,182.02 L250.79,183.66 L252.28,185.32 L253.78,186.98 L255.27,188.65 L256.77,190.33 L258.26,192.03 L259.76,193.73 L261.25,195.44 L262.75,197.17 L264.24,198.90 L265.74,200.64 L267.23,202.38 L268.73,204.13 L270.22,205.89 L271.71,207.66 L273.21,209.43 L274.70,211.21 L276.20,212.99 L277.69,214.77 L279.19,216.56 L280.68,218.35 L282.18,220.14 L283.67,221.93 L285.17,223.72 L286.66,225.51 L288.16,227.29 L289.65,229.07 L291.15,230.85 L292.64,232.62 L294.14,234.38 L295.63,236.13 L297.13,237.88 L298.62,239.61 L300.12,241.32 L301.61,243.02 L303.11,244.71 L304.60,246.37 L306.10,248.02 L307.59,249.64 L309.09,251.23 L310.58,252.80 L312.08,254.34 L313.57,255.84 L315.07,257.32 L316.56,258.75 L318.06,260.14 L319.55,261.49 L321.05,262.79 L322.54,264.05 L324.04,265.26 L325.53,266.41 L327.03,267.50 L328.52,268.54 L330.02,269.51 L331.51,270.42 L333.01,271.26 L334.50,272.04 L335.99,272.75 L337.49,273.39 L338.98,273.96 L340.48,274.47 L341.97,274.91 L343.47,275.28 L344.96,275.60 L346.46,275.85 L347.95,276.06 L349.45,276.22 L350.94,276.34 L352.44,276.44 L353.93,276.51 L355.43,276.56 L356.92,276.60 L358.42,276.65 L359.91,276.69 L361.41,276.73 L362.90,276.78 L364.40,276.83 L365.89,276.88 L367.39,276.95 L368.88,277.00" fill="none" stroke="#0000ff" stroke-width="4.7" stroke-linejoin="round"/>
<path d="M389.45,22.56 L390.20,22.56 L391.40,22.56 L392.60,22.57 L393.80,22.62 L395.00,22.68 L396.20,22.78 L397.40,22.90 L398.60,23.05 L399.80,23.22 L401.00,23.42 L402.20,23.65 L403.40,23.90 L404.60,24.17 L405.80,24.47 L407.00,24.80 L408.20,25.16 L409.40,25.54 L410.60,25.94 L411.80,26.37 L413.00,26.83 L414.20,27.31 L415.40,27.82 L416.60,28.35 L417.81,28.91 L419.01,29.49 L420.21,30.10 L421.41,30.73 L422.61,31.39 L423.81,32.08 L425.01,32.79 L426.21,33.52 L427.41,34.28 L428.61,35.06 L429.81,35.87 L431.01,36.71 L432.21,37.56 L433.41,38.45 L434.61,39.35 L435.81,40.29 L437.01,41.24 L438.21,42.22 L439.41,43.23 L440.61,44.25 L441.81,45.29 L443.01,46.35 L444.21,47.43 L445.41,48.53 L446.61,49.66 L447.81,50.81 L449.01,51.99 L450.21,53.18 L451.41,54.40 L452.61,55.64 L453.81,56.91 L455.01,58.19 L456.21,59.50 L457.41,60.83 L458.61,62.18 L459.81,63.56 L461.01,64.95 L462.21,66.37 L463.41,67.80 L464.61,69.26 L465.81,70.74 L467.01,72.24 L468.21,73.76 L469.41,75.31 L470.62,76.90 L471.82,78.50 L473.02,80.12 L474.22,81.76 L475.42,83.42 L476.62,85.10 L477.82,86.80 L479.02,88.52 L480.22,90.26 L481.42,92.01 L482.62,93.79 L483.82,95.58 L485.02,97.39 L486.22,99.22 L487.42,101.06 L488.62,102.92 L489.82,104.80 L491.02,106.69 L492.22,108.60 L493.42,110.52 L494.62,112.46 L495.82,114.42 L497.02,116.39 L498.22,118.37 L499.42,120.36 L500.62,122.37 L501.82,124.39 L503.02,126.43 L504.22,128.47 L505.42,130.53 L506.62,132.60 L507.82,134.68 L509.02,136.77 L510.22,138.87 L511.42,140.97 L512.62,143.09 L513.82,145.21 L515.02,147.34 L516.22,149.48 L517.42,151.63 L518.62,153.78 L519.82,155.93 L521.02,158.09 L522.22,160.25 L523.42,162.42 L524.63,164.59 L525.83,166.76 L527.03,168.93 L528.23,171.10 L529.43,173.27 L530.63,175.44 L531.83,177.61 L533.03,179.77 L534.23,181.93 L535.43,184.09 L536.63,186.24 L537.83,188.39 L539.03,190.53 L540.23,192.66 L541.43,194.78 L542.63,196.89 L543.83,199.00 L545.03,201.09 L546.23,203.16 L547.43,205.23 L548.63,207.28 L549.83,209.32 L551.03,211.33 L552.23,213.34 L553.43,215.32 L554.63,217.28 L555.83,219.22 L557.03,221.15 L558.23,223.04 L559.43,224.92 L560.63,226.77 L561.83,228.59 L563.03,230.39 L564.23,232.16 L565.43,233.90 L566.63,235.61 L567.83,237.28 L569.03,238.93 L570.23,240.54 L571.43,242.12 L572.63,243.66 L573.83,245.16 L575.03,246.63 L576.23,248.06 L577.44,249.47 L578.64,250.85 L579.84,252.19 L581.04,253.48 L582.24,254.73 L583.44,255.94 L584.64,257.10 L585.84,258.21 L587.04,259.27 L588.24,260.29 L589.44,261.26 L590.64,262.18 L591.84,263.05 L593.04,263.85 L594.24,264.61 L595.44,265.31 L596.64,265.97 L597.84,266.59 L599.04,267.15 L600.24,267.68 L601.44,268.16 L602.64,268.59 L603.84,268.98 L605.04,269.33 L606.24,269.64 L607.44,269.99 L608.64,270.36 L609.84,270.68 L610.59,270.68 L610.59,276.26 L609.84,276.26 L608.64,276.10 L607.44,275.93 L606.24,275.76 L605.04,275.57 L603.84,275.36 L602.64,275.15 L601.44,274.91 L600.24,274.66 L599.04,274.39 L597.84,274.10 L596.64,273.79 L595.44,273.46 L594.24,273.11 L593.04,272.73 L591.84,272.32 L590.64,271.89 L589.44,271.44 L588.24,270.95 L587.04,270.44 L585.84,269.90 L584.64,269.33 L583.44,268.73 L582.24,268.10 L581.04,267.43 L579.84,266.74 L578.64,266.01 L577.44,265.25 L576.23,264.46 L575.03,263.64 L573.83,262.79 L572.63,261.90 L571.43,260.98 L570.23,260.03 L569.03,259.04 L567.83,258.03 L566.63,256.98 L565.43,255.90 L564.23,254.79 L563.03,253.65 L561.83,252.47 L560.63,251.27 L559.43,250.04 L558.23,248.78 L557.03,247.50 L555.83,246.18 L554.63,244.84 L553.43,243.47 L552.23,242.08 L551.03,240.66 L549.83,239.21 L548.63,237.75 L547.43,236.26 L546.23,234.74 L545.03,233.21 L543.83,231.65 L542.63,230.08 L541.43,228.49 L540.23,226.88 L539.03,225.25 L537.83,223.60 L536.63,221.94 L535.43,220.26 L534.23,218.57 L533.03,216.86 L531.83,215.14 L530.63,213.41 L529.43,211.67 L528.23,209.92 L527.03,208.16 L525.83,206.39 L524.63,204.61 L523.42,202.82 L522.22,201.03 L521.02,199.23 L519.82,197.43 L518.62,195.62 L517.42,193.81 L516.22,191.99 L515.02,190.18 L513.82,188.36 L512.62,186.54 L511.42,184.72 L510.22,182.90 L509.02,181.08 L507.82,179.26 L506.62,177.44 L505.42,175.63 L504.22,173.82 L503.02,172.02 L501.82,170.22 L500.62,168.42 L499.42,166.63 L498.22,164.85 L497.02,163.08 L495.82,161.31 L494.62,159.55 L493.42,157.79 L492.22,156.05 L491.02,154.32 L489.82,152.59 L488.62,150.88 L487.42,149.17 L486.22,147.48 L485.02,145.80 L483.82,144.13 L482.62,142.48 L481.42,140.84 L480.22,139.21 L479.02,137.59 L477.82,135.99 L476.62,134.40 L475.42,132.83 L474.22,131.27 L473.02,129.73 L471.82,128.20 L470.62,126.69 L469.41,125.20 L468.21,123.72 L467.01,122.26 L465.81,120.81 L464.61,119.39 L463.41,117.98 L462.21,116.59 L461.01,115.22 L459.81,113.87 L458.61,112.53 L457.41,111.22 L456.21,109.92 L455.01,108.65 L453.81,107.39 L452.61,106.15 L451.41,104.94 L450.21,103.74 L449.01,102.57 L447.81,101.41 L446.61,100.28 L445.41,99.17 L444.21,98.08 L443.01,97.01 L441.81,95.96 L440.61,94.94 L439.41,93.93 L438.21,92.95 L437.01,91.99 L435.81,91.06 L434.61,90.14 L433.41,89.25 L432.21,88.38 L431.01,87.54 L429.81,86.72 L428.61,85.92 L427.41,85.14 L426.21,84.39 L425.01,83.66 L423.81,82.96 L422.61,82.28 L421.41,81.62 L420.21,80.99 L419.01,80.38 L417.81,79.79 L416.60,79.23 L415.40,78.70 L414.20,78.18 L413.00,77.70 L411.80,77.24 L410.60,76.80 L409.40,76.39 L408.20,76.00 L407.00,75.63 L405.80,75.30 L404.60,74.98 L403.40,74.70 L402.20,74.43 L401.00,74.20 L399.80,73.98 L398.60,73.80 L397.40,73.64 L396.20,73.50 L395.00,73.39 L393.80,73.30 L392.60,73.25 L391.40,73.21 L390.20,73.20 L389.45,73.20Z" fill="#ff8040"/><path d="M386.60,23.26H393.80M387.80,23.26H395.00M389.00,23.27H396.20M390.20,23.32H397.40M391.40,23.38H398.60M392.60,23.48H399.80M393.80,23.60H401.00M395.00,23.75H402.20M396.20,23.92H403.40M397.40,24.12H404.60M398.60,24.35H405.80M399.80,24.60H407.00M401.00,24.87H408.20M402.20,25.17H409.40M403.40,25.50H410.60M404.60,25.86H411.80M405.80,26.24H413.00M407.00,26.64H414.20M408.20,27.07H415.40M409.40,27.53H416.60M410.60,28.01H417.80M411.80,28.52H419.00M413.00,29.05H420.20M414.21,29.61H421.41M415.41,30.19H422.61M416.61,30.80H423.81M417.81,31.43H425.01M419.01,32.09H426.21M420.21,32.78H427.41M421.41,33.49H428.61M422.61,34.22H429.81M423.81,34.98H431.01M425.01,35.76H432.21M426.21,36.57H433.41M427.41,37.41H434.61M428.61,38.26H435.81M429.81,39.15H437.01M431.01,40.05H438.21M432.21,40.99H439.41M433.41,41.94H440.61M434.61,42.92H441.81M435.81,43.93H443.01M437.01,44.95H444.21M438.21,45.99H445.41M439.41,47.05H446.61M440.61,48.13H447.81M441.81,49.23H449.01M443.01,50.36H450.21M444.21,51.51H451.41M445.41,52.69H452.61M446.61,53.88H453.81M447.81,55.10H455.01M449.01,56.34H456.21M450.21,57.61H457.41M451.41,58.89H458.61M452.61,60.20H459.81M453.81,61.53H461.01M455.01,62.88H462.21M456.21,64.26H463.41M457.41,65.65H464.61M458.61,67.07H465.81M459.81,68.50H467.01M461.01,69.96H468.21M462.21,71.44H469.41M463.41,72.94H470.61M464.61,74.46H471.81M465.81,76.01H473.01M467.02,77.60H474.22M468.22,79.20H475.42M469.42,80.82H476.62M470.62,82.46H477.82M471.82,84.12H479.02M473.02,85.80H480.22M474.22,87.50H481.42M475.42,89.22H482.62M476.62,90.96H483.82M477.82,92.71H485.02M479.02,94.49H486.22M480.22,96.28H487.42M481.42,98.09H488.62M482.62,99.92H489.82M483.82,101.76H491.02M485.02,103.62H492.22M486.22,105.50H493.42M487.42,107.39H494.62M488.62,109.30H495.82M489.82,111.22H497.02M491.02,113.16H498.22M492.22,115.12H499.42M493.42,117.09H500.62M494.62,119.07H501.82M495.82,121.06H503.02M497.02,123.07H504.22M498.22,125.09H505.42M499.42,127.13H506.62M500.62,129.17H507.82M501.82,131.23H509.02M503.02,133.30H510.22M504.22,135.38H511.42M505.42,137.47H512.62M506.62,139.57H513.82M507.82,141.67H515.02M509.02,143.79H516.22M510.22,145.91H517.42M511.42,148.04H518.62M512.62,150.18H519.82M513.82,152.33H521.02M515.02,154.48H522.22M516.22,156.63H523.42M517.42,158.79H524.62M518.62,160.95H525.82M519.82,163.12H527.02M521.03,165.29H528.23M522.23,167.46H529.43M523.43,169.63H530.63M524.63,171.80H531.83M525.83,173.97H533.03M527.03,176.14H534.23M528.23,178.31H535.43M529.43,180.47H536.63M530.63,182.63H537.83M531.83,184.79H539.03M533.03,186.94H540.23M534.23,189.09H541.43M535.43,191.23H542.63M536.63,193.36H543.83M537.83,195.48H545.03M539.03,197.59H546.23M540.23,199.70H547.43M541.43,201.79H548.63M542.63,203.86H549.83M543.83,205.93H551.03M545.03,207.98H552.23M546.23,210.02H553.43M547.43,212.03H554.63M548.63,214.04H555.83M549.83,216.02H557.03M551.03,217.98H558.23M552.23,219.92H559.43M553.43,221.85H560.63M554.63,223.74H561.83M555.83,225.62H563.03M557.03,227.47H564.23M558.23,229.29H565.43M559.43,231.09H566.63M560.63,232.86H567.83M561.83,234.60H569.03M563.03,236.31H570.23M564.23,237.98H571.43M565.43,239.63H572.63M566.63,241.24H573.83M567.83,242.82H575.03M569.03,244.36H576.23M570.23,245.86H577.43M571.43,247.33H578.63M572.63,248.76H579.83M573.84,250.17H581.04M575.04,251.55H582.24M576.24,252.89H583.44M577.44,254.18H584.64M578.64,255.43H585.84M579.84,256.64H587.04M581.04,257.80H588.24M582.24,258.91H589.44M583.44,259.97H590.64M584.64,260.99H591.84M585.84,261.96H593.04M587.04,262.88H594.24M588.24,263.75H595.44M589.44,264.55H596.64M590.64,265.31H597.84M591.84,266.01H599.04M593.04,266.67H600.24M594.24,267.29H601.44M595.44,267.85H602.64M596.64,268.38H603.84M597.84,268.86H605.04M599.04,269.29H606.24M600.24,269.68H607.44M601.44,270.03H608.64M602.64,270.34H609.84M603.84,270.69H610.59M605.04,271.06H610.59M606.24,271.38H610.59M386.60,72.65h3.6" stroke="#ff8040" stroke-width="1.4" fill="none"/>
<path d="M389.45,173.76 L390.20,173.76 L391.40,173.73 L392.60,173.71 L393.80,173.70 L395.00,173.70 L396.20,173.71 L397.40,173.72 L398.60,173.74 L399.80,173.77 L401.00,173.81 L402.20,173.86 L403.40,173.91 L404.60,173.97 L405.80,174.04 L407.00,174.12 L408.20,174.20 L409.40,174.29 L410.60,174.38 L411.80,174.48 L413.00,174.59 L414.20,174.71 L415.40,174.83 L416.60,174.96 L417.81,175.09 L419.01,175.23 L420.21,175.37 L421.41,175.52 L422.61,175.68 L423.81,175.84 L425.01,176.00 L426.21,176.18 L427.41,176.35 L428.61,176.53 L429.81,176.72 L431.01,176.91 L432.21,177.11 L433.41,177.31 L434.61,177.51 L435.81,177.72 L437.01,177.93 L438.21,178.15 L439.41,178.37 L440.61,178.60 L441.81,178.83 L443.01,179.07 L444.21,179.30 L445.41,179.55 L446.61,179.79 L447.81,180.04 L449.01,180.30 L450.21,180.55 L451.41,180.81 L452.61,181.08 L453.81,181.35 L455.01,181.62 L456.21,181.89 L457.41,182.17 L458.61,182.45 L459.81,182.74 L461.01,183.02 L462.21,183.32 L463.41,183.61 L464.61,183.91 L465.81,184.21 L467.01,184.51 L468.21,184.82 L469.41,185.13 L470.62,185.45 L471.82,185.76 L473.02,186.08 L474.22,186.41 L475.42,186.73 L476.62,187.06 L477.82,187.40 L479.02,187.73 L480.22,188.07 L481.42,188.41 L482.62,188.76 L483.82,189.11 L485.02,189.46 L486.22,189.82 L487.42,190.18 L488.62,190.54 L489.82,190.90 L491.02,191.27 L492.22,191.64 L493.42,192.02 L494.62,192.40 L495.82,192.78 L497.02,193.17 L498.22,193.56 L499.42,193.95 L500.62,194.35 L501.82,194.75 L503.02,195.16 L504.22,195.57 L505.42,195.98 L506.62,196.40 L507.82,196.82 L509.02,197.24 L510.22,197.67 L511.42,198.11 L512.62,198.55 L513.82,198.99 L515.02,199.44 L516.22,199.89 L517.42,200.35 L518.62,200.81 L519.82,201.28 L521.02,201.75 L522.22,202.23 L523.42,202.71 L524.63,203.20 L525.83,203.69 L527.03,204.19 L528.23,204.70 L529.43,205.21 L530.63,205.72 L531.83,206.25 L533.03,206.77 L534.23,207.31 L535.43,207.85 L536.63,208.40 L537.83,208.95 L539.03,209.51 L540.23,210.08 L541.43,210.66 L542.63,211.24 L543.83,211.83 L545.03,212.42 L546.23,213.03 L547.43,213.64 L548.63,214.26 L549.83,214.89 L551.03,215.52 L552.23,216.17 L553.43,216.82 L554.63,217.48 L555.83,218.15 L557.03,218.83 L558.23,219.52 L559.43,220.21 L560.63,220.92 L561.83,221.63 L563.03,222.36 L564.23,223.09 L565.43,223.83 L566.63,224.58 L567.83,225.35 L569.03,226.12 L570.23,226.90 L571.43,227.70 L572.63,228.50 L573.83,229.31 L575.03,230.14 L576.23,230.97 L577.44,231.82 L578.64,232.67 L579.84,233.54 L581.04,234.42 L582.24,235.31 L583.44,236.21 L584.64,237.12 L585.84,238.04 L587.04,238.97 L588.24,239.92 L589.44,240.87 L590.64,241.84 L591.84,242.81 L593.04,243.80 L594.24,244.79 L595.44,245.79 L596.64,246.80 L597.84,247.82 L599.04,248.85 L600.24,249.88 L601.44,250.93 L602.64,251.99 L603.84,253.05 L605.04,254.13 L606.24,255.21 L607.44,256.19 L608.64,257.09 L609.84,258.03 L610.59,258.03 L610.59,267.54 L609.84,267.54 L608.64,266.91 L607.44,266.27 L606.24,265.63 L605.04,264.98 L603.84,264.33 L602.64,263.68 L601.44,263.03 L600.24,262.37 L599.04,261.72 L597.84,261.06 L596.64,260.41 L595.44,259.75 L594.24,259.10 L593.04,258.45 L591.84,257.80 L590.64,257.15 L589.44,256.51 L588.24,255.87 L587.04,255.23 L585.84,254.60 L584.64,253.97 L583.44,253.34 L582.24,252.73 L581.04,252.11 L579.84,251.50 L578.64,250.90 L577.44,250.30 L576.23,249.71 L575.03,249.12 L573.83,248.54 L572.63,247.97 L571.43,247.40 L570.23,246.84 L569.03,246.28 L567.83,245.74 L566.63,245.19 L565.43,244.66 L564.23,244.13 L563.03,243.60 L561.83,243.09 L560.63,242.58 L559.43,242.08 L558.23,241.58 L557.03,241.09 L555.83,240.60 L554.63,240.13 L553.43,239.66 L552.23,239.19 L551.03,238.73 L549.83,238.28 L548.63,237.84 L547.43,237.40 L546.23,236.97 L545.03,236.54 L543.83,236.12 L542.63,235.70 L541.43,235.29 L540.23,234.89 L539.03,234.49 L537.83,234.10 L536.63,233.72 L535.43,233.34 L534.23,232.96 L533.03,232.59 L531.83,232.23 L530.63,231.87 L529.43,231.52 L528.23,231.17 L527.03,230.83 L525.83,230.49 L524.63,230.16 L523.42,229.83 L522.22,229.51 L521.02,229.19 L519.82,228.88 L518.62,228.57 L517.42,228.27 L516.22,227.97 L515.02,227.67 L513.82,227.38 L512.62,227.09 L511.42,226.81 L510.22,226.53 L509.02,226.26 L507.82,225.99 L506.62,225.72 L505.42,225.46 L504.22,225.20 L503.02,224.95 L501.82,224.70 L500.62,224.45 L499.42,224.20 L498.22,223.96 L497.02,223.73 L495.82,223.49 L494.62,223.26 L493.42,223.03 L492.22,222.81 L491.02,222.59 L489.82,222.37 L488.62,222.16 L487.42,221.95 L486.22,221.74 L485.02,221.53 L483.82,221.33 L482.62,221.13 L481.42,220.93 L480.22,220.74 L479.02,220.54 L477.82,220.35 L476.62,220.17 L475.42,219.98 L474.22,219.80 L473.02,219.62 L471.82,219.45 L470.62,219.27 L469.41,219.10 L468.21,218.93 L467.01,218.76 L465.81,218.60 L464.61,218.43 L463.41,218.27 L462.21,218.12 L461.01,217.96 L459.81,217.81 L458.61,217.65 L457.41,217.50 L456.21,217.36 L455.01,217.21 L453.81,217.07 L452.61,216.93 L451.41,216.79 L450.21,216.65 L449.01,216.51 L447.81,216.38 L446.61,216.25 L445.41,216.12 L444.21,215.99 L443.01,215.87 L441.81,215.74 L440.61,215.62 L439.41,215.50 L438.21,215.39 L437.01,215.27 L435.81,215.16 L434.61,215.04 L433.41,214.93 L432.21,214.83 L431.01,214.72 L429.81,214.62 L428.61,214.51 L427.41,214.41 L426.21,214.31 L425.01,214.22 L423.81,214.12 L422.61,214.03 L421.41,213.94 L420.21,213.85 L419.01,213.77 L417.81,213.68 L416.60,213.60 L415.40,213.52 L414.20,213.44 L413.00,213.37 L411.80,213.29 L410.60,213.22 L409.40,213.15 L408.20,213.08 L407.00,213.02 L405.80,212.96 L404.60,212.90 L403.40,212.84 L402.20,212.78 L401.00,212.73 L399.80,212.68 L398.60,212.63 L397.40,212.58 L396.20,212.54 L395.00,212.50 L393.80,212.46 L392.60,212.43 L391.40,212.39 L390.20,212.36 L389.45,212.36Z" fill="#80ff80"/><path d="M386.60,174.46H393.80M387.80,174.43H395.00M389.00,174.41H396.20M390.20,174.40H397.40M391.40,174.40H398.60M392.60,174.41H399.80M393.80,174.42H401.00M395.00,174.44H402.20M396.20,174.47H403.40M397.40,174.51H404.60M398.60,174.56H405.80M399.80,174.61H407.00M401.00,174.67H408.20M402.20,174.74H409.40M403.40,174.82H410.60M404.60,174.90H411.80M405.80,174.99H413.00M407.00,175.08H414.20M408.20,175.18H415.40M409.40,175.29H416.60M410.60,175.41H417.80M411.80,175.53H419.00M413.00,175.66H420.20M414.21,175.79H421.41M415.41,175.93H422.61M416.61,176.07H423.81M417.81,176.22H425.01M419.01,176.38H426.21M420.21,176.54H427.41M421.41,176.70H428.61M422.61,176.88H429.81M423.81,177.05H431.01M425.01,177.23H432.21M426.21,177.42H433.41M427.41,177.61H434.61M428.61,177.81H435.81M429.81,178.01H437.01M431.01,178.21H438.21M432.21,178.42H439.41M433.41,178.63H440.61M434.61,178.85H441.81M435.81,179.07H443.01M437.01,179.30H444.21M438.21,179.53H445.41M439.41,179.77H446.61M440.61,180.00H447.81M441.81,180.25H449.01M443.01,180.49H450.21M444.21,180.74H451.41M445.41,181.00H452.61M446.61,181.25H453.81M447.81,181.51H455.01M449.01,181.78H456.21M450.21,182.05H457.41M451.41,182.32H458.61M452.61,182.59H459.81M453.81,182.87H461.01M455.01,183.15H462.21M456.21,183.44H463.41M457.41,183.72H464.61M458.61,184.02H465.81M459.81,184.31H467.01M461.01,184.61H468.21M462.21,184.91H469.41M463.41,185.21H470.61M464.61,185.52H471.81M465.81,185.83H473.01M467.02,186.15H474.22M468.22,186.46H475.42M469.42,186.78H476.62M470.62,187.11H477.82M471.82,187.43H479.02M473.02,187.76H480.22M474.22,188.10H481.42M475.42,188.43H482.62M476.62,188.77H483.82M477.82,189.11H485.02M479.02,189.46H486.22M480.22,189.81H487.42M481.42,190.16H488.62M482.62,190.52H489.82M483.82,190.88H491.02M485.02,191.24H492.22M486.22,191.60H493.42M487.42,191.97H494.62M488.62,192.34H495.82M489.82,192.72H497.02M491.02,193.10H498.22M492.22,193.48H499.42M493.42,193.87H500.62M494.62,194.26H501.82M495.82,194.65H503.02M497.02,195.05H504.22M498.22,195.45H505.42M499.42,195.86H506.62M500.62,196.27H507.82M501.82,196.68H509.02M503.02,197.10H510.22M504.22,197.52H511.42M505.42,197.94H512.62M506.62,198.37H513.82M507.82,198.81H515.02M509.02,199.25H516.22M510.22,199.69H517.42M511.42,200.14H518.62M512.62,200.59H519.82M513.82,201.05H521.02M515.02,201.51H522.22M516.22,201.98H523.42M517.42,202.45H524.62M518.62,202.93H525.82M519.82,203.41H527.02M521.03,203.90H528.23M522.23,204.39H529.43M523.43,204.89H530.63M524.63,205.40H531.83M525.83,205.91H533.03M527.03,206.42H534.23M528.23,206.95H535.43M529.43,207.47H536.63M530.63,208.01H537.83M531.83,208.55H539.03M533.03,209.10H540.23M534.23,209.65H541.43M535.43,210.21H542.63M536.63,210.78H543.83M537.83,211.36H545.03M539.03,211.94H546.23M540.23,212.53H547.43M541.43,213.12H548.63M542.63,213.73H549.83M543.83,214.34H551.03M545.03,214.96H552.23M546.23,215.59H553.43M547.43,216.22H554.63M548.63,216.87H555.83M549.83,217.52H557.03M551.03,218.18H558.23M552.23,218.85H559.43M553.43,219.53H560.63M554.63,220.22H561.83M555.83,220.91H563.03M557.03,221.62H564.23M558.23,222.33H565.43M559.43,223.06H566.63M560.63,223.79H567.83M561.83,224.53H569.03M563.03,225.28H570.23M564.23,226.05H571.43M565.43,226.82H572.63M566.63,227.60H573.83M567.83,228.40H575.03M569.03,229.20H576.23M570.23,230.01H577.43M571.43,230.84H578.63M572.63,231.67H579.83M573.84,232.52H581.04M575.04,233.37H582.24M576.24,234.24H583.44M577.44,235.12H584.64M578.64,236.01H585.84M579.84,236.91H587.04M581.04,237.82H588.24M582.24,238.74H589.44M583.44,239.67H590.64M584.64,240.62H591.84M585.84,241.57H593.04M587.04,242.54H594.24M588.24,243.51H595.44M589.44,244.50H596.64M590.64,245.49H597.84M591.84,246.49H599.04M593.04,247.50H600.24M594.24,248.52H601.44M595.44,249.55H602.64M596.64,250.58H603.84M597.84,251.63H605.04M599.04,252.69H606.24M600.24,253.75H607.44M601.44,254.83H608.64M602.64,255.91H609.84M603.84,256.89H610.59M605.04,257.79H610.59M606.24,258.73H610.59M386.60,211.81h3.6" stroke="#80ff80" stroke-width="1.4" fill="none"/>
<path d="M390.20,56.90 L399.43,54.30 L405.59,57.90 L414.82,64.20 L420.97,62.30 L430.21,72.80 L436.36,75.80 L445.59,67.90 L451.75,64.30 L460.98,72.30 L467.14,77.50 L476.37,83.00 L482.52,99.30 L491.76,114.20 L497.91,127.20 L507.14,151.30 L513.30,169.20 L522.53,180.90 L528.69,195.50 L537.92,211.60 L544.08,218.80 L553.31,227.50 L559.46,236.00 L568.69,238.00 L574.85,255.00 L584.08,256.60 L590.24,260.80 L599.47,261.80 L605.62,264.00" fill="none" stroke="#ff0000" stroke-width="1.6" stroke-linejoin="round"/><circle cx="390.20" cy="56.90" r="3.0" fill="#ff0000"/><circle cx="399.43" cy="54.30" r="3.0" fill="#ff0000"/><circle cx="405.59" cy="57.90" r="3.0" fill="#ff0000"/><circle cx="414.82" cy="64.20" r="3.0" fill="#ff0000"/><circle cx="420.97" cy="62.30" r="3.0" fill="#ff0000"/><circle cx="430.21" cy="72.80" r="3.0" fill="#ff0000"/><circle cx="436.36" cy="75.80" r="3.0" fill="#ff0000"/><circle cx="445.59" cy="67.90" r="3.0" fill="#ff0000"/><circle cx="451.75" cy="64.30" r="3.0" fill="#ff0000"/><circle cx="460.98" cy="72.30" r="3.0" fill="#ff0000"/><circle cx="467.14" cy="77.50" r="3.0" fill="#ff0000"/><circle cx="476.37" cy="83.00" r="3.0" fill="#ff0000"/><circle cx="482.52" cy="99.30" r="3.0" fill="#ff0000"/><circle cx="491.76" cy="114.20" r="3.0" fill="#ff0000"/><circle cx="497.91" cy="127.20" r="3.0" fill="#ff0000"/><circle cx="507.14" cy="151.30" r="3.0" fill="#ff0000"/><circle cx="513.30" cy="169.20" r="3.0" fill="#ff0000"/><circle cx="522.53" cy="180.90" r="3.0" fill="#ff0000"/><circle cx="528.69" cy="195.50" r="3.0" fill="#ff0000"/><circle cx="537.92" cy="211.60" r="3.0" fill="#ff0000"/><circle cx="544.08" cy="218.80" r="3.0" fill="#ff0000"/><circle cx="553.31" cy="227.50" r="3.0" fill="#ff0000"/><circle cx="559.46" cy="236.00" r="3.0" fill="#ff0000"/><circle cx="568.69" cy="238.00" r="3.0" fill="#ff0000"/><circle cx="574.85" cy="255.00" r="3.0" fill="#ff0000"/><circle cx="584.08" cy="256.60" r="3.0" fill="#ff0000"/><circle cx="590.24" cy="260.80" r="3.0" fill="#ff0000"/><circle cx="599.47" cy="261.80" r="3.0" fill="#ff0000"/><circle cx="605.62" cy="264.00" r="3.0" fill="#ff0000"/>
<path d="M390.20,51.52 L391.58,51.33 L392.95,51.20 L394.33,51.11 L395.71,51.07 L397.08,51.09 L398.46,51.15 L399.83,51.26 L401.21,51.41 L402.59,51.62 L403.96,51.87 L405.34,52.16 L406.72,52.50 L408.09,52.89 L409.47,53.33 L410.85,53.80 L412.22,54.33 L413.60,54.89 L414.97,55.50 L416.35,56.16 L417.73,56.85 L419.10,57.59 L420.48,58.37 L421.86,59.19 L423.23,60.05 L424.61,60.96 L425.99,61.90 L427.36,62.88 L428.74,63.91 L430.11,64.97 L431.49,66.06 L432.87,67.20 L434.24,68.38 L435.62,69.59 L437.00,70.84 L438.37,72.12 L439.75,73.44 L441.13,74.79 L442.50,76.18 L443.88,77.60 L445.25,79.06 L446.63,80.55 L448.01,82.07 L449.38,83.62 L450.76,85.21 L452.14,86.82 L453.51,88.47 L454.89,90.14 L456.27,91.85 L457.64,93.58 L459.02,95.34 L460.39,97.13 L461.77,98.95 L463.15,100.79 L464.52,102.66 L465.90,104.55 L467.28,106.46 L468.65,108.40 L470.03,110.37 L471.41,112.35 L472.78,114.36 L474.16,116.38 L475.53,118.43 L476.91,120.50 L478.29,122.59 L479.66,124.69 L481.04,126.81 L482.42,128.95 L483.79,131.10 L485.17,133.27 L486.55,135.46 L487.92,137.65 L489.30,139.86 L490.67,142.08 L492.05,144.31 L493.43,146.56 L494.80,148.81 L496.18,151.07 L497.56,153.33 L498.93,155.61 L500.31,157.89 L501.69,160.17 L503.06,162.46 L504.44,164.75 L505.82,167.04 L507.19,169.34 L508.57,171.63 L509.94,173.92 L511.32,176.21 L512.70,178.50 L514.07,180.78 L515.45,183.06 L516.83,185.33 L518.20,187.59 L519.58,189.85 L520.96,192.10 L522.33,194.33 L523.71,196.55 L525.08,198.77 L526.46,200.96 L527.84,203.15 L529.21,205.31 L530.59,207.46 L531.97,209.59 L533.34,211.70 L534.72,213.79 L536.10,215.86 L537.47,217.91 L538.85,219.93 L540.22,221.93 L541.60,223.90 L542.98,225.84 L544.35,227.76 L545.73,229.64 L547.11,231.50 L548.48,233.32 L549.86,235.11 L551.24,236.87 L552.61,238.60 L553.99,240.28 L555.36,241.94 L556.74,243.55 L558.12,245.13 L559.49,246.66 L560.87,248.16 L562.25,249.62 L563.62,251.04 L565.00,252.41 L566.38,253.75 L567.75,255.04 L569.13,256.28 L570.50,257.49 L571.88,258.65 L573.26,259.76 L574.63,260.83 L576.01,261.86 L577.39,262.84 L578.76,263.78 L580.14,264.67 L581.52,265.52 L582.89,266.33 L584.27,267.09 L585.64,267.81 L587.02,268.49 L588.40,269.12 L589.77,269.72 L591.15,270.28 L592.53,270.79 L593.90,271.27 L595.28,271.72 L596.66,272.12 L598.03,272.50 L599.41,272.84 L600.78,273.15 L602.16,273.43 L603.54,273.68 L604.91,273.91 L606.29,274.11 L607.67,274.29 L609.04,274.44 L610.42,274.58 L611.80,274.70 L613.17,274.81 L614.55,274.90 L615.92,274.97 L617.30,275.04 L618.68,275.10 L620.05,275.14 L621.43,275.19 L622.81,275.22 L624.18,275.25 L625.56,275.28 L626.94,275.30 L628.31,275.32 L629.69,275.34 L631.06,275.35 L632.44,275.37 L633.82,275.39 L635.19,275.40 L636.57,275.41 L637.95,275.43 L639.32,275.44 L640.70,275.45 L642.08,275.47 L643.45,275.48 L644.83,275.49 L646.20,275.50 L647.58,275.51 L648.96,275.52 L650.33,275.53 L651.71,275.53 L653.09,275.54 L654.46,275.54 L655.84,275.54 L657.22,275.54 L658.59,275.54 L659.97,275.54 L661.34,275.53 L662.72,275.52 L664.10,275.51" fill="none" stroke="#ff0000" stroke-width="5" stroke-linejoin="round"/>
<path d="M390.20,146.60 L399.43,150.30 L405.59,191.40 L414.82,190.80 L420.97,195.80 L430.21,193.80 L436.36,220.70 L445.59,193.40 L451.75,225.70 L460.98,204.20 L467.14,201.20 L476.37,210.80 L482.52,228.00 L491.76,230.50 L497.91,209.60 L507.14,210.80 L513.30,221.00 L522.53,198.50 L528.69,212.10 L537.92,225.00 L544.08,235.50 L553.31,242.70 L559.46,235.50 L568.69,246.00 L574.85,236.30 L584.08,235.00 L590.24,232.90 L599.47,250.00 L605.62,246.80" fill="none" stroke="#70c00a" stroke-width="1.6" stroke-linejoin="round"/><circle cx="390.20" cy="146.60" r="3.0" fill="#70c00a"/><circle cx="399.43" cy="150.30" r="3.0" fill="#70c00a"/><circle cx="405.59" cy="191.40" r="3.0" fill="#70c00a"/><circle cx="414.82" cy="190.80" r="3.0" fill="#70c00a"/><circle cx="420.97" cy="195.80" r="3.0" fill="#70c00a"/><circle cx="430.21" cy="193.80" r="3.0" fill="#70c00a"/><circle cx="436.36" cy="220.70" r="3.0" fill="#70c00a"/><circle cx="445.59" cy="193.40" r="3.0" fill="#70c00a"/><circle cx="451.75" cy="225.70" r="3.0" fill="#70c00a"/><circle cx="460.98" cy="204.20" r="3.0" fill="#70c00a"/><circle cx="467.14" cy="201.20" r="3.0" fill="#70c00a"/><circle cx="476.37" cy="210.80" r="3.0" fill="#70c00a"/><circle cx="482.52" cy="228.00" r="3.0" fill="#70c00a"/><circle cx="491.76" cy="230.50" r="3.0" fill="#70c00a"/><circle cx="497.91" cy="209.60" r="3.0" fill="#70c00a"/><circle cx="507.14" cy="210.80" r="3.0" fill="#70c00a"/><circle cx="513.30" cy="221.00" r="3.0" fill="#70c00a"/><circle cx="522.53" cy="198.50" r="3.0" fill="#70c00a"/><circle cx="528.69" cy="212.10" r="3.0" fill="#70c00a"/><circle cx="537.92" cy="225.00" r="3.0" fill="#70c00a"/><circle cx="544.08" cy="235.50" r="3.0" fill="#70c00a"/><circle cx="553.31" cy="242.70" r="3.0" fill="#70c00a"/><circle cx="559.46" cy="235.50" r="3.0" fill="#70c00a"/><circle cx="568.69" cy="246.00" r="3.0" fill="#70c00a"/><circle cx="574.85" cy="236.30" r="3.0" fill="#70c00a"/><circle cx="584.08" cy="235.00" r="3.0" fill="#70c00a"/><circle cx="590.24" cy="232.90" r="3.0" fill="#70c00a"/><circle cx="599.47" cy="250.00" r="3.0" fill="#70c00a"/><circle cx="605.62" cy="246.80" r="3.0" fill="#70c00a"/>
<path d="M390.20,199.48 L391.58,199.47 L392.95,199.46 L394.33,199.46 L395.71,199.48 L397.08,199.50 L398.46,199.52 L399.83,199.56 L401.21,199.60 L402.59,199.65 L403.96,199.71 L405.34,199.78 L406.72,199.85 L408.09,199.93 L409.47,200.01 L410.85,200.10 L412.22,200.20 L413.60,200.30 L414.97,200.41 L416.35,200.53 L417.73,200.65 L419.10,200.77 L420.48,200.90 L421.86,201.04 L423.23,201.18 L424.61,201.32 L425.99,201.47 L427.36,201.63 L428.74,201.79 L430.11,201.95 L431.49,202.12 L432.87,202.29 L434.24,202.46 L435.62,202.64 L437.00,202.83 L438.37,203.01 L439.75,203.20 L441.13,203.40 L442.50,203.60 L443.88,203.80 L445.25,204.00 L446.63,204.21 L448.01,204.43 L449.38,204.64 L450.76,204.86 L452.14,205.09 L453.51,205.31 L454.89,205.54 L456.27,205.78 L457.64,206.01 L459.02,206.25 L460.39,206.50 L461.77,206.74 L463.15,206.99 L464.52,207.25 L465.90,207.50 L467.28,207.76 L468.65,208.03 L470.03,208.30 L471.41,208.57 L472.78,208.84 L474.16,209.12 L475.53,209.40 L476.91,209.69 L478.29,209.98 L479.66,210.27 L481.04,210.57 L482.42,210.87 L483.79,211.17 L485.17,211.48 L486.55,211.79 L487.92,212.11 L489.30,212.43 L490.67,212.76 L492.05,213.09 L493.43,213.42 L494.80,213.76 L496.18,214.10 L497.56,214.45 L498.93,214.80 L500.31,215.15 L501.69,215.52 L503.06,215.88 L504.44,216.25 L505.82,216.63 L507.19,217.01 L508.57,217.40 L509.94,217.79 L511.32,218.19 L512.70,218.59 L514.07,219.00 L515.45,219.41 L516.83,219.83 L518.20,220.26 L519.58,220.69 L520.96,221.13 L522.33,221.57 L523.71,222.02 L525.08,222.48 L526.46,222.94 L527.84,223.41 L529.21,223.88 L530.59,224.36 L531.97,224.85 L533.34,225.35 L534.72,225.85 L536.10,226.36 L537.47,226.88 L538.85,227.40 L540.22,227.93 L541.60,228.47 L542.98,229.01 L544.35,229.56 L545.73,230.12 L547.11,230.69 L548.48,231.26 L549.86,231.85 L551.24,232.44 L552.61,233.03 L553.99,233.64 L555.36,234.25 L556.74,234.87 L558.12,235.50 L559.49,236.13 L560.87,236.78 L562.25,237.43 L563.62,238.08 L565.00,238.75 L566.38,239.42 L567.75,240.10 L569.13,240.79 L570.50,241.48 L571.88,242.18 L573.26,242.89 L574.63,243.61 L576.01,244.33 L577.39,245.06 L578.76,245.79 L580.14,246.53 L581.52,247.28 L582.89,248.03 L584.27,248.79 L585.64,249.55 L587.02,250.32 L588.40,251.09 L589.77,251.86 L591.15,252.64 L592.53,253.42 L593.90,254.21 L595.28,254.99 L596.66,255.78 L598.03,256.56 L599.41,257.35 L600.78,258.14 L602.16,258.92 L603.54,259.70 L604.91,260.48 L606.29,261.25 L607.67,262.02 L609.04,262.78 L610.42,263.53 L611.80,264.27 L613.17,265.01 L614.55,265.73 L615.92,266.44 L617.30,267.13 L618.68,267.81 L620.05,268.47 L621.43,269.11 L622.81,269.73 L624.18,270.32 L625.56,270.89 L626.94,271.44 L628.31,271.95 L629.69,272.44 L631.06,272.89 L632.44,273.31 L633.82,273.70 L635.19,274.05 L636.57,274.37 L637.95,274.65 L639.32,274.89 L640.70,275.09 L642.08,275.26 L643.45,275.40 L644.83,275.50 L646.20,275.57 L647.58,275.62 L648.96,275.64 L650.33,275.65 L651.71,275.63 L653.09,275.61 L654.46,275.57 L655.84,275.53 L657.22,275.48 L658.59,275.42 L659.97,275.36 L661.34,275.29 L662.72,275.22 L664.10,275.13" fill="none" stroke="#00c81e" stroke-width="4.9" stroke-linejoin="round"/>
<rect x="66.25" y="17.25" width="308.25" height="264.6" fill="none" stroke="#000" stroke-width="1.75"/>
<rect x="385.15" y="17.25" width="284.65" height="263.5" fill="none" stroke="#000" stroke-width="1.75"/>
<path d="M234.9,44.3 H257.2" stroke="#000" stroke-width="1.3"/><circle cx="246.1" cy="44.3" r="3.3" fill="#000"/>
<path d="M232.9,57.9 H255.8" stroke="#000" stroke-width="4.4"/>
<path d="M237.5,71 H259.8" stroke="#a0a0a0" stroke-width="1.4"/>
<path d="M293.7,97.8 H315.7" stroke="#00f" stroke-width="4.4"/>
<path d="M295.1,111.1 H316.7" stroke="#000" stroke-width="4.4"/>
<path d="M577.6,60.9 H599.3" stroke="#f00" stroke-width="4.4"/>
<path d="M577.6,74.2 H599.3" stroke="#00c81e" stroke-width="4.4"/>
<g font-family="Liberation Sans, sans-serif" font-size="11.7" font-weight="bold" fill="#000">
<text x="263" y="47.9">Exp. data 5 u.c.</text><text x="262.4" y="61.3">Theory (best fit)</text><text x="265.6" y="74.8">Exp. error bar</text></g>
<g font-family="Liberation Sans, sans-serif" font-size="11.3" fill="#000">
<text x="321.2" y="101.7">La 4d</text><text x="322.2" y="114.7">Sr 3d</text>
<text x="605.3" y="64.2">Ti 2p</text><text x="604.9" y="77.8">Al 2s</text></g>
<g font-family="Liberation Sans, sans-serif" font-size="14" fill="#000" text-anchor="middle">
<text x="71.6" y="301.4">0</text>
<text x="390.5" y="300.4">0</text>
<text x="138.4" y="301.4">20</text>
<text x="452.1" y="300.4">20</text>
<text x="205.3" y="301.4">40</text>
<text x="513.6" y="300.4">40</text>
<text x="272.1" y="301.4">60</text>
<text x="575.1" y="300.4">60</text>
<text x="339.0" y="301.4">80</text>
<text x="636.7" y="300.4">80</text>
<text x="218.6" y="323.5" font-size="14.2">Tilt angle (°)</text><text x="525.9" y="323.0" font-size="14.2">Tilt angle (°)</text>
<text transform="translate(33.9,149) rotate(-90)" font-size="14.5">AR-XPS Intensity (arb. units)</text>
</g>
<path d="M92.8,331.1 H622.5" stroke="#a0a6ff" stroke-width="1" stroke-dasharray="1.4,1.67"/>
<clipPath id="cb"><rect x="80" y="320" width="549.9" height="220"/></clipPath>
<g clip-path="url(#cb)" stroke="#000" stroke-width="1.5" fill="#ff8080">
<rect x="228.12" y="365.30" width="13.44" height="12.80"/>
<rect x="254.99" y="331.80" width="13.44" height="46.30"/>
<rect x="281.87" y="331.80" width="13.44" height="46.30"/>
<rect x="308.74" y="331.80" width="13.44" height="46.30"/>
<rect x="335.62" y="331.80" width="13.44" height="46.30"/>
<rect x="362.49" y="331.80" width="13.44" height="46.30"/>
<rect x="389.36" y="331.80" width="13.44" height="46.30"/>
<rect x="416.24" y="331.80" width="13.44" height="46.30"/>
<rect x="443.11" y="331.80" width="13.44" height="46.30"/>
<rect x="469.99" y="331.80" width="13.44" height="46.30"/>
<rect x="496.86" y="331.80" width="13.44" height="46.30"/>
<rect x="523.73" y="331.80" width="13.44" height="46.30"/>
<rect x="550.61" y="331.80" width="13.44" height="46.30"/>
<rect x="577.48" y="331.80" width="13.44" height="46.30"/>
<rect x="604.36" y="331.80" width="13.44" height="46.30"/>
<rect x="241.56" y="412.60" width="13.44" height="13.00"/>
<rect x="268.43" y="379.10" width="13.44" height="46.50"/>
<rect x="295.30" y="379.10" width="13.44" height="46.50"/>
<rect x="322.18" y="379.10" width="13.44" height="46.50"/>
<rect x="349.05" y="379.10" width="13.44" height="46.50"/>
<rect x="375.93" y="379.10" width="13.44" height="46.50"/>
<rect x="402.80" y="379.10" width="13.44" height="46.50"/>
<rect x="429.68" y="379.10" width="13.44" height="46.50"/>
<rect x="456.55" y="379.10" width="13.44" height="46.50"/>
<rect x="483.42" y="379.10" width="13.44" height="46.50"/>
<rect x="510.30" y="379.10" width="13.44" height="46.50"/>
<rect x="537.17" y="379.10" width="13.44" height="46.50"/>
<rect x="564.04" y="379.10" width="13.44" height="46.50"/>
<rect x="590.92" y="379.10" width="13.44" height="46.50"/>
<rect x="617.79" y="379.10" width="13.44" height="46.50"/>
<rect x="93.75" y="426.60" width="13.44" height="46.00"/>
<rect x="120.62" y="426.60" width="13.44" height="46.00"/>
<rect x="147.50" y="426.60" width="13.44" height="46.00"/>
<rect x="174.37" y="426.60" width="13.44" height="46.00"/>
<rect x="201.25" y="426.60" width="13.44" height="46.00"/>
<rect x="107.19" y="483.50" width="13.44" height="36.00"/>
<rect x="134.06" y="473.60" width="13.44" height="45.90"/>
<rect x="160.94" y="473.60" width="13.44" height="45.90"/>
<rect x="187.81" y="473.60" width="13.44" height="45.90"/>
<rect x="214.68" y="473.60" width="13.44" height="45.90"/>
<rect x="241.56" y="497.50" width="13.44" height="22.00"/>
</g>
<g stroke="#000" stroke-width="1.55">
<path d="M92.8,378.1 H629.9"/><path d="M92.8,425.6 H629.9"/><path d="M90.6,472.6 H629.9"/><path d="M90.6,519.5 H629.9"/><path d="M90.6,522.2 H632.1999999999999"/>
<path d="M91.4,472.6 V522.8000000000001" stroke-width="1.6"/>
</g>
<g stroke="#000" stroke-width="1.2">
<path d="M91.4,482.20 h10.6"/>
<path d="M91.4,491.80 h10.6"/>
<path d="M91.4,501.40 h10.6"/>
<path d="M91.4,511.00 h10.6"/>
<path d="M93.10,523.3000000000001 V511.8"/>
<path d="M106.53,523.3000000000001 V517.1"/>
<path d="M119.96,523.3000000000001 V517.1"/>
<path d="M133.39,523.3000000000001 V517.1"/>
<path d="M146.82,523.3000000000001 V517.1"/>
<path d="M160.25,523.3000000000001 V514.3"/>
<path d="M173.68,523.3000000000001 V517.1"/>
<path d="M187.11,523.3000000000001 V517.1"/>
<path d="M200.54,523.3000000000001 V517.1"/>
<path d="M213.97,523.3000000000001 V517.1"/>
<path d="M227.40,523.3000000000001 V511.8"/>
<path d="M240.83,523.3000000000001 V517.1"/>
<path d="M254.26,523.3000000000001 V517.1"/>
<path d="M267.69,523.3000000000001 V517.1"/>
<path d="M281.12,523.3000000000001 V517.1"/>
<path d="M294.55,523.3000000000001 V514.3"/>
<path d="M307.98,523.3000000000001 V517.1"/>
<path d="M321.41,523.3000000000001 V517.1"/>
<path d="M334.84,523.3000000000001 V517.1"/>
<path d="M348.27,523.3000000000001 V517.1"/>
<path d="M361.70,523.3000000000001 V511.8"/>
<path d="M375.13,523.3000000000001 V517.1"/>
<path d="M388.56,523.3000000000001 V517.1"/>
<path d="M401.99,523.3000000000001 V517.1"/>
<path d="M415.42,523.3000000000001 V517.1"/>
<path d="M428.85,523.3000000000001 V514.3"/>
<path d="M442.28,523.3000000000001 V517.1"/>
<path d="M455.71,523.3000000000001 V517.1"/>
<path d="M469.14,523.3000000000001 V517.1"/>
<path d="M482.57,523.3000000000001 V517.1"/>
<path d="M496.00,523.3000000000001 V511.8"/>
<path d="M509.43,523.3000000000001 V517.1"/>
<path d="M522.86,523.3000000000001 V517.1"/>
<path d="M536.29,523.3000000000001 V517.1"/>
<path d="M549.72,523.3000000000001 V517.1"/>
<path d="M563.15,523.3000000000001 V514.3"/>
<path d="M576.58,523.3000000000001 V517.1"/>
<path d="M590.01,523.3000000000001 V517.1"/>
<path d="M603.44,523.3000000000001 V517.1"/>
<path d="M616.87,523.3000000000001 V517.1"/>
<path d="M630.30,523.3000000000001 V511.8"/>
</g>
<path d="M227.4,331.5 V522.2" stroke="#0000b4" stroke-width="1.3" stroke-dasharray="2.7,2.7"/>
<g font-family="Liberation Sans, sans-serif" font-size="15" font-weight="bold" fill="#000">
<text x="188.2" y="362.0">Ti</text><text x="186.9" y="407.5">Sr</text><text x="278" y="457.4" font-size="14.3">Al</text><text x="277.7" y="499.2" font-size="14.6">La</text></g>
<g font-family="Liberation Sans, sans-serif" font-size="11.4" fill="#000" text-anchor="end">
<text x="85.4" y="477.1">1.0</text>
<text x="85.4" y="486.6">0.8</text>
<text x="85.4" y="496.2">0.6</text>
<text x="85.4" y="505.7">0.4</text>
<text x="85.4" y="515.2">0.2</text>
<text x="85.4" y="524.8">0.0</text>
</g>
<g font-family="Liberation Sans, sans-serif" font-size="14" fill="#000" text-anchor="middle">
<text x="93.0" y="542.4">0</text>
<text x="227.3" y="542.4">10</text>
<text x="361.6" y="542.4">20</text>
<text x="495.9" y="542.4">30</text>
<text x="630.2" y="542.4">40</text>
<text x="361.95" y="573.7" font-size="14.6">Half-layer number (10 is the interface)</text>
</g>
<text font-family="Liberation Sans, sans-serif" font-size="11.8" fill="#000" text-anchor="middle" transform="translate(58.5,464.1) rotate(-90)">Layer Occupation</text>
</svg></body></html>
